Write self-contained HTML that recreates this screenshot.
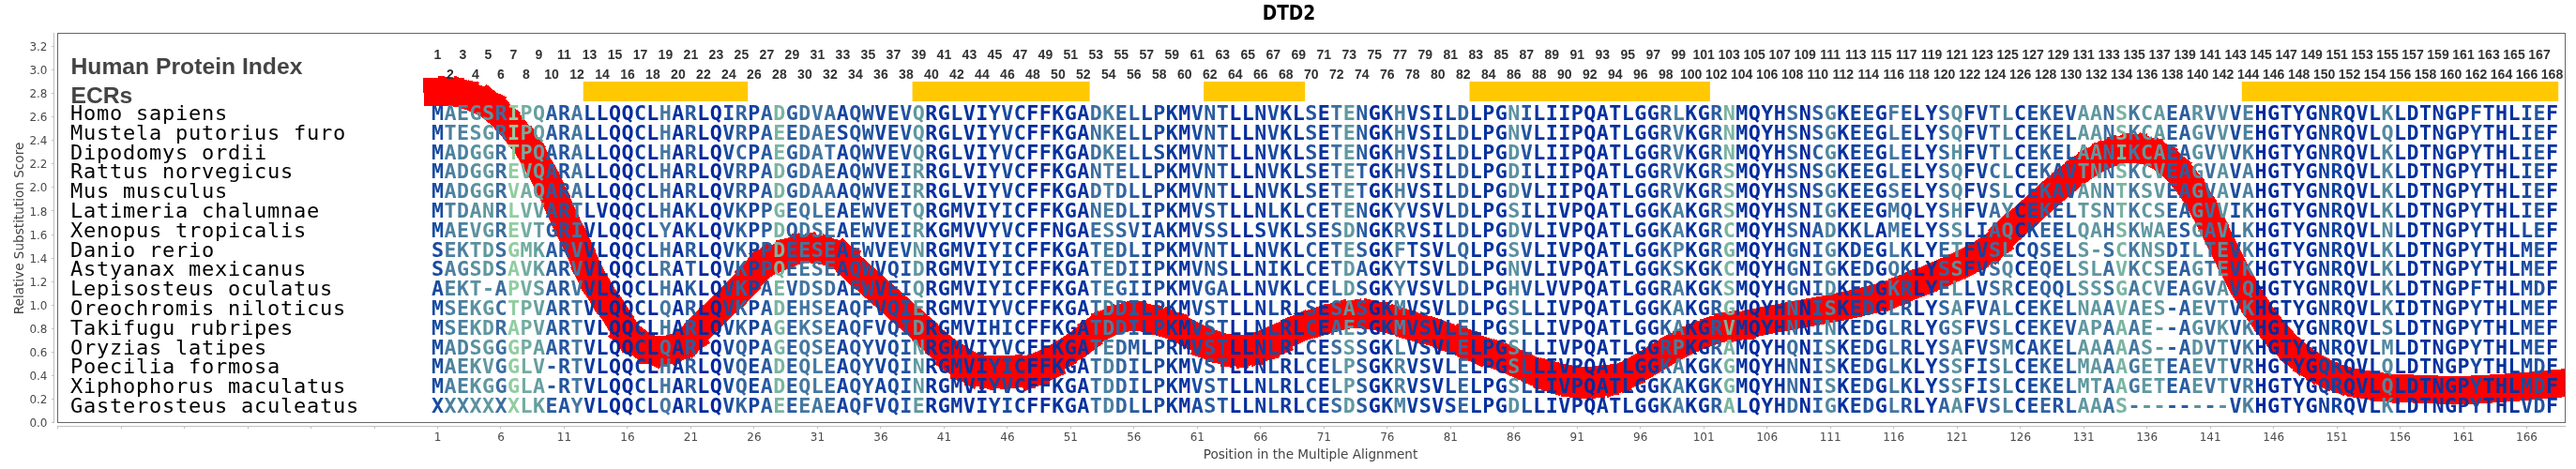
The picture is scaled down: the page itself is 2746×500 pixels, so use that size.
<!DOCTYPE html><html><head><meta charset="utf-8"><title>DTD2</title><style>html,body{margin:0;padding:0;background:#fff;}svg{display:block;will-change:transform}</style></head><body><svg width="2746" height="500" viewBox="0 0 2746 500"><rect width="2746" height="500" fill="#fff"/><text x="1374" y="21" text-anchor="middle" font-family="DejaVu Sans Condensed, DejaVu Sans, sans-serif" font-stretch="condensed" font-weight="bold" font-size="20.7" fill="#000">DTD2</text><g shape-rendering="crispEdges"><line x1="57.5" y1="35" x2="57.5" y2="451" stroke="#c0c0c0" stroke-width="1"/><g stroke="#c0c0c0" stroke-width="1"><line x1="55" y1="450.5" x2="57" y2="450.5"/><line x1="55" y1="425.5" x2="57" y2="425.5"/><line x1="55" y1="400.5" x2="57" y2="400.5"/><line x1="55" y1="375.5" x2="57" y2="375.5"/><line x1="55" y1="350.5" x2="57" y2="350.5"/><line x1="55" y1="325.5" x2="57" y2="325.5"/><line x1="55" y1="300.5" x2="57" y2="300.5"/><line x1="55" y1="275.5" x2="57" y2="275.5"/><line x1="55" y1="250.5" x2="57" y2="250.5"/><line x1="55" y1="224.5" x2="57" y2="224.5"/><line x1="55" y1="199.5" x2="57" y2="199.5"/><line x1="55" y1="174.5" x2="57" y2="174.5"/><line x1="55" y1="149.5" x2="57" y2="149.5"/><line x1="55" y1="124.5" x2="57" y2="124.5"/><line x1="55" y1="99.5" x2="57" y2="99.5"/><line x1="55" y1="74.5" x2="57" y2="74.5"/><line x1="55" y1="49.5" x2="57" y2="49.5"/></g><line x1="61" y1="454.5" x2="2735" y2="454.5" stroke="#c0c0c0" stroke-width="1"/><g stroke="#c0c0c0" stroke-width="1"><line x1="61.5" y1="455" x2="61.5" y2="457"/><line x1="129.5" y1="455" x2="129.5" y2="457"/><line x1="196.5" y1="455" x2="196.5" y2="457"/><line x1="264.5" y1="455" x2="264.5" y2="457"/><line x1="331.5" y1="455" x2="331.5" y2="457"/><line x1="399.5" y1="455" x2="399.5" y2="457"/><line x1="466.5" y1="455" x2="466.5" y2="457"/><line x1="533.5" y1="455" x2="533.5" y2="457"/><line x1="601.5" y1="455" x2="601.5" y2="457"/><line x1="668.5" y1="455" x2="668.5" y2="457"/><line x1="736.5" y1="455" x2="736.5" y2="457"/><line x1="803.5" y1="455" x2="803.5" y2="457"/><line x1="871.5" y1="455" x2="871.5" y2="457"/><line x1="938.5" y1="455" x2="938.5" y2="457"/><line x1="1006.5" y1="455" x2="1006.5" y2="457"/><line x1="1073.5" y1="455" x2="1073.5" y2="457"/><line x1="1141.5" y1="455" x2="1141.5" y2="457"/><line x1="1208.5" y1="455" x2="1208.5" y2="457"/><line x1="1276.5" y1="455" x2="1276.5" y2="457"/><line x1="1343.5" y1="455" x2="1343.5" y2="457"/><line x1="1411.5" y1="455" x2="1411.5" y2="457"/><line x1="1478.5" y1="455" x2="1478.5" y2="457"/><line x1="1546.5" y1="455" x2="1546.5" y2="457"/><line x1="1613.5" y1="455" x2="1613.5" y2="457"/><line x1="1681.5" y1="455" x2="1681.5" y2="457"/><line x1="1748.5" y1="455" x2="1748.5" y2="457"/><line x1="1816.5" y1="455" x2="1816.5" y2="457"/><line x1="1883.5" y1="455" x2="1883.5" y2="457"/><line x1="1951.5" y1="455" x2="1951.5" y2="457"/><line x1="2018.5" y1="455" x2="2018.5" y2="457"/><line x1="2086.5" y1="455" x2="2086.5" y2="457"/><line x1="2153.5" y1="455" x2="2153.5" y2="457"/><line x1="2221.5" y1="455" x2="2221.5" y2="457"/><line x1="2288.5" y1="455" x2="2288.5" y2="457"/><line x1="2356.5" y1="455" x2="2356.5" y2="457"/><line x1="2423.5" y1="455" x2="2423.5" y2="457"/><line x1="2491.5" y1="455" x2="2491.5" y2="457"/><line x1="2558.5" y1="455" x2="2558.5" y2="457"/><line x1="2626.5" y1="455" x2="2626.5" y2="457"/><line x1="2693.5" y1="455" x2="2693.5" y2="457"/></g></g><g font-family="DejaVu Sans, sans-serif" font-size="12" fill="#4a4a4a" text-anchor="end"><text x="50.5" y="455.0">0.0</text><text x="50.5" y="429.9">0.2</text><text x="50.5" y="404.9">0.4</text><text x="50.5" y="379.8">0.6</text><text x="50.5" y="354.8">0.8</text><text x="50.5" y="329.7">1.0</text><text x="50.5" y="304.6">1.2</text><text x="50.5" y="279.6">1.4</text><text x="50.5" y="254.5">1.6</text><text x="50.5" y="229.5">1.8</text><text x="50.5" y="204.4">2.0</text><text x="50.5" y="179.3">2.2</text><text x="50.5" y="154.3">2.4</text><text x="50.5" y="129.2">2.6</text><text x="50.5" y="104.2">2.8</text><text x="50.5" y="79.1">3.0</text><text x="50.5" y="54.0">3.2</text></g><g font-family="DejaVu Sans, sans-serif" font-size="12" fill="#4a4a4a" text-anchor="middle"><text x="466.5" y="470">1</text><text x="534.0" y="470">6</text><text x="601.5" y="470">11</text><text x="669.0" y="470">16</text><text x="736.4" y="470">21</text><text x="803.9" y="470">26</text><text x="871.4" y="470">31</text><text x="938.9" y="470">36</text><text x="1006.4" y="470">41</text><text x="1073.9" y="470">46</text><text x="1141.3" y="470">51</text><text x="1208.8" y="470">56</text><text x="1276.3" y="470">61</text><text x="1343.8" y="470">66</text><text x="1411.3" y="470">71</text><text x="1478.8" y="470">76</text><text x="1546.3" y="470">81</text><text x="1613.7" y="470">86</text><text x="1681.2" y="470">91</text><text x="1748.7" y="470">96</text><text x="1816.2" y="470">101</text><text x="1883.7" y="470">106</text><text x="1951.2" y="470">111</text><text x="2018.7" y="470">116</text><text x="2086.1" y="470">121</text><text x="2153.6" y="470">126</text><text x="2221.1" y="470">131</text><text x="2288.6" y="470">136</text><text x="2356.1" y="470">141</text><text x="2423.6" y="470">146</text><text x="2491.1" y="470">151</text><text x="2558.5" y="470">156</text><text x="2626.0" y="470">161</text><text x="2693.5" y="470">166</text></g><text x="1397" y="489" text-anchor="middle" font-family="DejaVu Sans, sans-serif" font-size="13.6" fill="#444">Position in the Multiple Alignment</text><text transform="translate(25,243.5) rotate(-90)" text-anchor="middle" font-family="DejaVu Sans, sans-serif" font-size="13.6" fill="#444">Relative Substitution Score</text><defs><clipPath id="pc"><rect x="61" y="35" width="2674" height="416"/></clipPath></defs><g clip-path="url(#pc)"><rect x="621.7" y="87" width="175.5" height="21" fill="#ffc800"/><rect x="972.6" y="87" width="189.0" height="21" fill="#ffc800"/><rect x="1283.1" y="87" width="108.0" height="21" fill="#ffc800"/><rect x="1566.5" y="87" width="256.4" height="21" fill="#ffc800"/><rect x="2389.8" y="87" width="337.4" height="21" fill="#ffc800"/><g stroke="#ff0000" stroke-width="30" stroke-linecap="square" shape-rendering="crispEdges"><line x1="466.50" y1="98.02" x2="480.00" y2="97.78"/><line x1="480.00" y1="97.78" x2="493.49" y2="100.01"/><line x1="493.49" y1="100.01" x2="506.99" y2="104.99"/><line x1="506.99" y1="104.99" x2="520.49" y2="111.02"/><line x1="520.49" y1="111.02" x2="533.99" y2="122.36"/><line x1="533.99" y1="122.36" x2="547.48" y2="137.32"/><line x1="547.48" y1="137.32" x2="560.98" y2="154.16"/><line x1="560.98" y1="154.16" x2="574.48" y2="177.07"/><line x1="574.48" y1="177.07" x2="587.97" y2="203.11"/><line x1="587.97" y1="203.11" x2="601.47" y2="232.78"/><line x1="601.47" y1="232.78" x2="614.97" y2="260.56"/><line x1="614.97" y1="260.56" x2="628.46" y2="290.93"/><line x1="628.46" y1="290.93" x2="641.96" y2="314.42"/><line x1="641.96" y1="314.42" x2="655.46" y2="334.29"/><line x1="655.46" y1="334.29" x2="668.95" y2="356.00"/><line x1="668.95" y1="356.00" x2="682.45" y2="366.50"/><line x1="682.45" y1="366.50" x2="695.95" y2="373.30"/><line x1="695.95" y1="373.30" x2="709.45" y2="373.30"/><line x1="709.45" y1="373.30" x2="722.94" y2="369.50"/><line x1="722.94" y1="369.50" x2="736.44" y2="361.00"/><line x1="736.44" y1="361.00" x2="749.94" y2="346.00"/><line x1="749.94" y1="346.00" x2="763.43" y2="333.00"/><line x1="763.43" y1="333.00" x2="776.93" y2="319.80"/><line x1="776.93" y1="319.80" x2="790.43" y2="306.50"/><line x1="790.43" y1="306.50" x2="803.92" y2="291.00"/><line x1="803.92" y1="291.00" x2="817.42" y2="279.00"/><line x1="817.42" y1="279.00" x2="830.92" y2="274.00"/><line x1="830.92" y1="274.00" x2="844.42" y2="268.00"/><line x1="844.42" y1="268.00" x2="857.91" y2="265.00"/><line x1="857.91" y1="265.00" x2="871.41" y2="266.00"/><line x1="871.41" y1="266.00" x2="884.91" y2="269.00"/><line x1="884.91" y1="269.00" x2="898.40" y2="275.00"/><line x1="898.40" y1="275.00" x2="911.90" y2="288.00"/><line x1="911.90" y1="288.00" x2="925.40" y2="300.00"/><line x1="925.40" y1="300.00" x2="938.89" y2="312.00"/><line x1="938.89" y1="312.00" x2="952.39" y2="324.00"/><line x1="952.39" y1="324.00" x2="965.89" y2="336.00"/><line x1="965.89" y1="336.00" x2="979.39" y2="347.70"/><line x1="979.39" y1="347.70" x2="992.88" y2="360.58"/><line x1="992.88" y1="360.58" x2="1006.38" y2="371.92"/><line x1="1006.38" y1="371.92" x2="1019.88" y2="381.12"/><line x1="1019.88" y1="383.12" x2="1033.37" y2="391.62" stroke-width="34.0"/><line x1="1033.37" y1="391.62" x2="1046.87" y2="395.43" stroke-width="34.0"/><line x1="1046.87" y1="395.43" x2="1060.37" y2="396.81" stroke-width="34.0"/><line x1="1060.37" y1="396.81" x2="1073.87" y2="396.02" stroke-width="34.0"/><line x1="1073.87" y1="396.02" x2="1087.36" y2="396.33" stroke-width="34.0"/><line x1="1087.36" y1="396.33" x2="1100.86" y2="394.99" stroke-width="34.0"/><line x1="1100.86" y1="394.99" x2="1114.36" y2="389.28" stroke-width="34.0"/><line x1="1114.36" y1="387.28" x2="1127.85" y2="380.46"/><line x1="1127.85" y1="380.46" x2="1141.35" y2="371.78"/><line x1="1141.35" y1="371.78" x2="1154.85" y2="362.62"/><line x1="1154.85" y1="362.62" x2="1168.34" y2="351.74"/><line x1="1168.34" y1="351.74" x2="1181.84" y2="344.03"/><line x1="1181.84" y1="344.03" x2="1195.34" y2="339.36"/><line x1="1195.34" y1="339.36" x2="1208.84" y2="337.59"/><line x1="1208.84" y1="337.59" x2="1222.33" y2="339.06"/><line x1="1222.33" y1="339.06" x2="1235.83" y2="343.04"/><line x1="1235.83" y1="343.04" x2="1249.33" y2="346.72"/><line x1="1249.33" y1="346.72" x2="1262.82" y2="353.27"/><line x1="1262.82" y1="353.27" x2="1276.32" y2="359.87"/><line x1="1276.32" y1="359.87" x2="1289.82" y2="365.74"/><line x1="1289.82" y1="367.24" x2="1303.31" y2="371.63" stroke-width="33.0"/><line x1="1303.31" y1="371.63" x2="1316.81" y2="373.80" stroke-width="33.0"/><line x1="1316.81" y1="373.80" x2="1330.31" y2="373.04" stroke-width="33.0"/><line x1="1330.31" y1="373.04" x2="1343.80" y2="369.44" stroke-width="33.0"/><line x1="1343.80" y1="369.44" x2="1357.30" y2="364.00" stroke-width="33.0"/><line x1="1357.30" y1="362.50" x2="1370.80" y2="356.24"/><line x1="1370.80" y1="356.24" x2="1384.30" y2="350.17"/><line x1="1384.30" y1="350.17" x2="1397.79" y2="345.27"/><line x1="1397.79" y1="345.27" x2="1411.29" y2="341.78"/><line x1="1411.29" y1="341.78" x2="1424.79" y2="337.57"/><line x1="1424.79" y1="337.57" x2="1438.28" y2="335.51"/><line x1="1438.28" y1="335.51" x2="1451.78" y2="335.46"/><line x1="1451.78" y1="335.46" x2="1465.28" y2="336.30"/><line x1="1465.28" y1="336.30" x2="1478.78" y2="339.90"/><line x1="1478.78" y1="339.90" x2="1492.27" y2="343.11"/><line x1="1492.27" y1="343.11" x2="1505.77" y2="347.93"/><line x1="1505.77" y1="347.93" x2="1519.27" y2="351.42"/><line x1="1519.27" y1="351.42" x2="1532.76" y2="355.67"/><line x1="1532.76" y1="355.67" x2="1546.26" y2="360.77"/><line x1="1546.26" y1="360.77" x2="1559.76" y2="364.75"/><line x1="1559.76" y1="364.75" x2="1573.25" y2="371.43"/><line x1="1573.25" y1="371.43" x2="1586.75" y2="376.00"/><line x1="1586.75" y1="376.00" x2="1600.25" y2="380.50"/><line x1="1600.25" y1="380.50" x2="1613.74" y2="386.00"/><line x1="1613.74" y1="386.00" x2="1627.24" y2="392.00"/><line x1="1627.24" y1="392.00" x2="1640.74" y2="398.00"/><line x1="1640.74" y1="398.00" x2="1654.24" y2="403.00"/><line x1="1654.24" y1="401.50" x2="1667.73" y2="405.00" stroke-width="33.0"/><line x1="1667.73" y1="405.00" x2="1681.23" y2="407.00" stroke-width="33.0"/><line x1="1681.23" y1="407.00" x2="1694.73" y2="407.50" stroke-width="33.0"/><line x1="1694.73" y1="407.50" x2="1708.22" y2="406.00" stroke-width="33.0"/><line x1="1708.22" y1="407.50" x2="1721.72" y2="404.50"/><line x1="1721.72" y1="404.50" x2="1735.22" y2="399.00"/><line x1="1735.22" y1="399.00" x2="1748.71" y2="391.50"/><line x1="1748.71" y1="391.50" x2="1762.21" y2="383.50"/><line x1="1762.21" y1="383.50" x2="1775.71" y2="375.50"/><line x1="1775.71" y1="375.50" x2="1789.21" y2="368.00"/><line x1="1789.21" y1="368.00" x2="1802.70" y2="361.50"/><line x1="1802.70" y1="361.50" x2="1816.20" y2="356.00"/><line x1="1816.20" y1="356.00" x2="1829.70" y2="351.50"/><line x1="1829.70" y1="351.50" x2="1843.19" y2="348.00"/><line x1="1843.19" y1="348.00" x2="1856.69" y2="347.22"/><line x1="1856.69" y1="347.22" x2="1870.19" y2="344.22"/><line x1="1870.19" y1="344.22" x2="1883.68" y2="341.46"/><line x1="1883.68" y1="341.46" x2="1897.18" y2="338.87"/><line x1="1897.18" y1="338.87" x2="1910.68" y2="336.40"/><line x1="1910.68" y1="336.40" x2="1924.18" y2="333.97"/><line x1="1924.18" y1="333.97" x2="1937.67" y2="331.51"/><line x1="1937.67" y1="331.51" x2="1951.17" y2="328.96"/><line x1="1951.17" y1="328.96" x2="1964.67" y2="326.26"/><line x1="1964.67" y1="326.26" x2="1978.16" y2="323.34"/><line x1="1978.16" y1="323.34" x2="1991.66" y2="320.13"/><line x1="1991.66" y1="320.13" x2="2005.16" y2="316.56"/><line x1="2005.16" y1="316.56" x2="2018.65" y2="312.58"/><line x1="2018.65" y1="312.58" x2="2032.15" y2="306.50"/><line x1="2032.15" y1="306.50" x2="2045.65" y2="301.50"/><line x1="2045.65" y1="301.50" x2="2059.15" y2="296.00"/><line x1="2059.15" y1="296.00" x2="2072.64" y2="290.00"/><line x1="2072.64" y1="290.00" x2="2086.14" y2="284.00"/><line x1="2086.14" y1="284.00" x2="2099.64" y2="277.50"/><line x1="2099.64" y1="277.50" x2="2113.13" y2="270.00"/><line x1="2113.13" y1="270.00" x2="2126.63" y2="261.00"/><line x1="2126.63" y1="261.00" x2="2140.13" y2="246.97"/><line x1="2140.13" y1="246.97" x2="2153.62" y2="235.36"/><line x1="2153.62" y1="235.36" x2="2167.12" y2="223.25"/><line x1="2167.12" y1="223.25" x2="2180.62" y2="211.07"/><line x1="2180.62" y1="211.07" x2="2194.12" y2="199.22"/><line x1="2194.12" y1="199.22" x2="2207.61" y2="188.13"/><line x1="2207.61" y1="188.13" x2="2221.11" y2="178.21"/><line x1="2221.11" y1="178.21" x2="2234.61" y2="169.88"/><line x1="2234.61" y1="169.88" x2="2248.10" y2="163.55"/><line x1="2248.10" y1="163.55" x2="2261.60" y2="159.64"/><line x1="2261.60" y1="159.64" x2="2275.10" y2="158.57"/><line x1="2275.10" y1="158.57" x2="2288.60" y2="160.75"/><line x1="2288.60" y1="160.75" x2="2302.09" y2="166.61"/><line x1="2302.09" y1="166.61" x2="2315.59" y2="176.60"/><line x1="2315.59" y1="176.60" x2="2329.09" y2="191.16"/><line x1="2329.09" y1="191.16" x2="2342.58" y2="210.74"/><line x1="2342.58" y1="210.74" x2="2356.08" y2="235.17"/><line x1="2356.08" y1="235.17" x2="2369.58" y2="262.25"/><line x1="2369.58" y1="262.25" x2="2383.07" y2="289.33"/><line x1="2383.07" y1="289.33" x2="2396.57" y2="313.90"/><line x1="2396.57" y1="313.90" x2="2410.07" y2="334.95"/><line x1="2410.07" y1="334.95" x2="2423.57" y2="352.73"/><line x1="2423.57" y1="352.73" x2="2437.06" y2="367.53"/><line x1="2437.06" y1="367.53" x2="2450.56" y2="379.63"/><line x1="2450.56" y1="379.63" x2="2464.06" y2="389.31"/><line x1="2464.06" y1="389.31" x2="2477.55" y2="396.86"/><line x1="2477.55" y1="396.86" x2="2491.05" y2="402.55"/><line x1="2491.05" y1="402.55" x2="2504.55" y2="406.68"/><line x1="2504.55" y1="406.68" x2="2518.04" y2="409.51"/><line x1="2518.04" y1="409.51" x2="2531.54" y2="411.35"/><line x1="2531.54" y1="411.35" x2="2545.04" y2="413.50"/><line x1="2545.04" y1="413.50" x2="2558.53" y2="414.00"/><line x1="2558.53" y1="414.00" x2="2572.03" y2="414.50"/><line x1="2572.03" y1="414.50" x2="2585.53" y2="415.00"/><line x1="2585.53" y1="415.00" x2="2599.03" y2="415.50"/><line x1="2599.03" y1="415.50" x2="2612.52" y2="415.80"/><line x1="2612.52" y1="415.80" x2="2626.02" y2="415.80"/><line x1="2626.02" y1="415.80" x2="2639.52" y2="415.30"/><line x1="2639.52" y1="415.30" x2="2653.01" y2="414.60"/><line x1="2653.01" y1="414.60" x2="2666.51" y2="413.80"/><line x1="2666.51" y1="413.80" x2="2680.01" y2="412.80"/><line x1="2680.01" y1="412.80" x2="2693.51" y2="411.80"/><line x1="2693.51" y1="411.80" x2="2707.00" y2="410.60"/><line x1="2707.00" y1="410.60" x2="2720.50" y2="409.40"/><line x1="2720.50" y1="409.40" x2="2734.00" y2="408.20"/><line x1="2734.00" y1="408.20" x2="2747.49" y2="407.00"/></g><text x="75.5" y="79" font-family="Liberation Sans, Arial, sans-serif" font-weight="bold" font-size="24.7" fill="#444">Human Protein Index</text><text x="75.5" y="110" font-family="Liberation Sans, Arial, sans-serif" font-weight="bold" font-size="24.7" fill="#444">ECRs</text><g font-family="Liberation Sans, Arial, sans-serif" font-weight="bold" font-size="14" fill="#333" text-anchor="middle"><text x="466.5" y="63.0">1</text><text x="480.0" y="83.5">2</text><text x="493.5" y="63.0">3</text><text x="507.0" y="83.5">4</text><text x="520.5" y="63.0">5</text><text x="534.0" y="83.5">6</text><text x="547.5" y="63.0">7</text><text x="561.0" y="83.5">8</text><text x="574.5" y="63.0">9</text><text x="588.0" y="83.5">10</text><text x="601.5" y="63.0">11</text><text x="615.0" y="83.5">12</text><text x="628.5" y="63.0">13</text><text x="642.0" y="83.5">14</text><text x="655.5" y="63.0">15</text><text x="669.0" y="83.5">16</text><text x="682.5" y="63.0">17</text><text x="695.9" y="83.5">18</text><text x="709.4" y="63.0">19</text><text x="722.9" y="83.5">20</text><text x="736.4" y="63.0">21</text><text x="749.9" y="83.5">22</text><text x="763.4" y="63.0">23</text><text x="776.9" y="83.5">24</text><text x="790.4" y="63.0">25</text><text x="803.9" y="83.5">26</text><text x="817.4" y="63.0">27</text><text x="830.9" y="83.5">28</text><text x="844.4" y="63.0">29</text><text x="857.9" y="83.5">30</text><text x="871.4" y="63.0">31</text><text x="884.9" y="83.5">32</text><text x="898.4" y="63.0">33</text><text x="911.9" y="83.5">34</text><text x="925.4" y="63.0">35</text><text x="938.9" y="83.5">36</text><text x="952.4" y="63.0">37</text><text x="965.9" y="83.5">38</text><text x="979.4" y="63.0">39</text><text x="992.9" y="83.5">40</text><text x="1006.4" y="63.0">41</text><text x="1019.9" y="83.5">42</text><text x="1033.4" y="63.0">43</text><text x="1046.9" y="83.5">44</text><text x="1060.4" y="63.0">45</text><text x="1073.9" y="83.5">46</text><text x="1087.4" y="63.0">47</text><text x="1100.9" y="83.5">48</text><text x="1114.4" y="63.0">49</text><text x="1127.9" y="83.5">50</text><text x="1141.3" y="63.0">51</text><text x="1154.8" y="83.5">52</text><text x="1168.3" y="63.0">53</text><text x="1181.8" y="83.5">54</text><text x="1195.3" y="63.0">55</text><text x="1208.8" y="83.5">56</text><text x="1222.3" y="63.0">57</text><text x="1235.8" y="83.5">58</text><text x="1249.3" y="63.0">59</text><text x="1262.8" y="83.5">60</text><text x="1276.3" y="63.0">61</text><text x="1289.8" y="83.5">62</text><text x="1303.3" y="63.0">63</text><text x="1316.8" y="83.5">64</text><text x="1330.3" y="63.0">65</text><text x="1343.8" y="83.5">66</text><text x="1357.3" y="63.0">67</text><text x="1370.8" y="83.5">68</text><text x="1384.3" y="63.0">69</text><text x="1397.8" y="83.5">70</text><text x="1411.3" y="63.0">71</text><text x="1424.8" y="83.5">72</text><text x="1438.3" y="63.0">73</text><text x="1451.8" y="83.5">74</text><text x="1465.3" y="63.0">75</text><text x="1478.8" y="83.5">76</text><text x="1492.3" y="63.0">77</text><text x="1505.8" y="83.5">78</text><text x="1519.3" y="63.0">79</text><text x="1532.8" y="83.5">80</text><text x="1546.3" y="63.0">81</text><text x="1559.8" y="83.5">82</text><text x="1573.3" y="63.0">83</text><text x="1586.8" y="83.5">84</text><text x="1600.2" y="63.0">85</text><text x="1613.7" y="83.5">86</text><text x="1627.2" y="63.0">87</text><text x="1640.7" y="83.5">88</text><text x="1654.2" y="63.0">89</text><text x="1667.7" y="83.5">90</text><text x="1681.2" y="63.0">91</text><text x="1694.7" y="83.5">92</text><text x="1708.2" y="63.0">93</text><text x="1721.7" y="83.5">94</text><text x="1735.2" y="63.0">95</text><text x="1748.7" y="83.5">96</text><text x="1762.2" y="63.0">97</text><text x="1775.7" y="83.5">98</text><text x="1789.2" y="63.0">99</text><text x="1802.7" y="83.5">100</text><text x="1816.2" y="63.0">101</text><text x="1829.7" y="83.5">102</text><text x="1843.2" y="63.0">103</text><text x="1856.7" y="83.5">104</text><text x="1870.2" y="63.0">105</text><text x="1883.7" y="83.5">106</text><text x="1897.2" y="63.0">107</text><text x="1910.7" y="83.5">108</text><text x="1924.2" y="63.0">109</text><text x="1937.7" y="83.5">110</text><text x="1951.2" y="63.0">111</text><text x="1964.7" y="83.5">112</text><text x="1978.2" y="63.0">113</text><text x="1991.7" y="83.5">114</text><text x="2005.2" y="63.0">115</text><text x="2018.7" y="83.5">116</text><text x="2032.2" y="63.0">117</text><text x="2045.6" y="83.5">118</text><text x="2059.1" y="63.0">119</text><text x="2072.6" y="83.5">120</text><text x="2086.1" y="63.0">121</text><text x="2099.6" y="83.5">122</text><text x="2113.1" y="63.0">123</text><text x="2126.6" y="83.5">124</text><text x="2140.1" y="63.0">125</text><text x="2153.6" y="83.5">126</text><text x="2167.1" y="63.0">127</text><text x="2180.6" y="83.5">128</text><text x="2194.1" y="63.0">129</text><text x="2207.6" y="83.5">130</text><text x="2221.1" y="63.0">131</text><text x="2234.6" y="83.5">132</text><text x="2248.1" y="63.0">133</text><text x="2261.6" y="83.5">134</text><text x="2275.1" y="63.0">135</text><text x="2288.6" y="83.5">136</text><text x="2302.1" y="63.0">137</text><text x="2315.6" y="83.5">138</text><text x="2329.1" y="63.0">139</text><text x="2342.6" y="83.5">140</text><text x="2356.1" y="63.0">141</text><text x="2369.6" y="83.5">142</text><text x="2383.1" y="63.0">143</text><text x="2396.6" y="83.5">144</text><text x="2410.1" y="63.0">145</text><text x="2423.6" y="83.5">146</text><text x="2437.1" y="63.0">147</text><text x="2450.6" y="83.5">148</text><text x="2464.1" y="63.0">149</text><text x="2477.6" y="83.5">150</text><text x="2491.1" y="63.0">151</text><text x="2504.5" y="83.5">152</text><text x="2518.0" y="63.0">153</text><text x="2531.5" y="83.5">154</text><text x="2545.0" y="63.0">155</text><text x="2558.5" y="83.5">156</text><text x="2572.0" y="63.0">157</text><text x="2585.5" y="83.5">158</text><text x="2599.0" y="63.0">159</text><text x="2612.5" y="83.5">160</text><text x="2626.0" y="63.0">161</text><text x="2639.5" y="83.5">162</text><text x="2653.0" y="63.0">163</text><text x="2666.5" y="83.5">164</text><text x="2680.0" y="63.0">165</text><text x="2693.5" y="83.5">166</text><text x="2707.0" y="63.0">167</text><text x="2720.5" y="83.5">168</text></g><g font-family="DejaVu Sans Mono, monospace" font-size="22" letter-spacing="0.75" fill="#000" style="white-space:pre"><text x="75" y="128.0">Homo sapiens</text><text x="75" y="148.8">Mustela putorius furo</text><text x="75" y="169.6">Dipodomys ordii</text><text x="75" y="190.4">Rattus norvegicus</text><text x="75" y="211.2">Mus musculus</text><text x="75" y="232.0">Latimeria chalumnae</text><text x="75" y="252.8">Xenopus tropicalis</text><text x="75" y="273.6">Danio rerio</text><text x="75" y="294.4">Astyanax mexicanus</text><text x="75" y="315.2">Lepisosteus oculatus</text><text x="75" y="336.0">Oreochromis niloticus</text><text x="75" y="356.8">Takifugu rubripes</text><text x="75" y="377.6">Oryzias latipes</text><text x="75" y="398.4">Poecilia formosa</text><text x="75" y="419.2">Xiphophorus maculatus</text><text x="75" y="440.0">Gasterosteus aculeatus</text></g><g font-family="DejaVu Sans Mono, monospace" font-weight="bold" font-size="21.7" text-anchor="middle"><text fill="#194ba0"><tspan x="466.5" y="128.0">M</tspan><tspan x="466.5" y="148.8">M</tspan><tspan x="466.5" y="169.6">M</tspan><tspan x="466.5" y="190.4">M</tspan><tspan x="466.5" y="211.2">M</tspan><tspan x="466.5" y="232.0">M</tspan><tspan x="466.5" y="252.8">M</tspan><tspan x="466.5" y="273.6">S</tspan><tspan x="466.5" y="294.4">S</tspan><tspan x="466.5" y="315.2">A</tspan><tspan x="466.5" y="336.0">M</tspan><tspan x="466.5" y="356.8">M</tspan><tspan x="466.5" y="377.6">M</tspan><tspan x="466.5" y="398.4">M</tspan><tspan x="466.5" y="419.2">M</tspan><tspan x="466.5" y="440.0">X</tspan></text><text fill="#4b80a0"><tspan x="480.0" y="128.0">A</tspan><tspan x="480.0" y="148.8">T</tspan><tspan x="480.0" y="169.6">A</tspan><tspan x="480.0" y="190.4">A</tspan><tspan x="480.0" y="211.2">A</tspan><tspan x="480.0" y="232.0">T</tspan><tspan x="480.0" y="252.8">A</tspan><tspan x="480.0" y="273.6">E</tspan><tspan x="480.0" y="294.4">A</tspan><tspan x="480.0" y="315.2">E</tspan><tspan x="480.0" y="336.0">S</tspan><tspan x="480.0" y="356.8">S</tspan><tspan x="480.0" y="377.6">A</tspan><tspan x="480.0" y="398.4">A</tspan><tspan x="480.0" y="419.2">A</tspan><tspan x="480.0" y="440.0">X</tspan></text><text fill="#4b80a0"><tspan x="493.5" y="128.0">E</tspan><tspan x="493.5" y="148.8">E</tspan><tspan x="493.5" y="169.6">D</tspan><tspan x="493.5" y="190.4">D</tspan><tspan x="493.5" y="211.2">D</tspan><tspan x="493.5" y="232.0">D</tspan><tspan x="493.5" y="252.8">E</tspan><tspan x="493.5" y="273.6">K</tspan><tspan x="493.5" y="294.4">G</tspan><tspan x="493.5" y="315.2">K</tspan><tspan x="493.5" y="336.0">E</tspan><tspan x="493.5" y="356.8">E</tspan><tspan x="493.5" y="377.6">D</tspan><tspan x="493.5" y="398.4">E</tspan><tspan x="493.5" y="419.2">E</tspan><tspan x="493.5" y="440.0">X</tspan></text><text fill="#5a91a0"><tspan x="507.0" y="128.0">G</tspan><tspan x="507.0" y="148.8">S</tspan><tspan x="507.0" y="169.6">G</tspan><tspan x="507.0" y="190.4">G</tspan><tspan x="507.0" y="211.2">G</tspan><tspan x="507.0" y="232.0">A</tspan><tspan x="507.0" y="252.8">V</tspan><tspan x="507.0" y="273.6">T</tspan><tspan x="507.0" y="294.4">S</tspan><tspan x="507.0" y="315.2">T</tspan><tspan x="507.0" y="336.0">K</tspan><tspan x="507.0" y="356.8">K</tspan><tspan x="507.0" y="377.6">S</tspan><tspan x="507.0" y="398.4">K</tspan><tspan x="507.0" y="419.2">K</tspan><tspan x="507.0" y="440.0">X</tspan></text><text fill="#6098a0"><tspan x="520.5" y="128.0">S</tspan><tspan x="520.5" y="148.8">G</tspan><tspan x="520.5" y="169.6">G</tspan><tspan x="520.5" y="190.4">G</tspan><tspan x="520.5" y="211.2">G</tspan><tspan x="520.5" y="232.0">N</tspan><tspan x="520.5" y="252.8">G</tspan><tspan x="520.5" y="273.6">D</tspan><tspan x="520.5" y="294.4">D</tspan><tspan x="520.5" y="315.2">-</tspan><tspan x="520.5" y="336.0">G</tspan><tspan x="520.5" y="356.8">D</tspan><tspan x="520.5" y="377.6">G</tspan><tspan x="520.5" y="398.4">V</tspan><tspan x="520.5" y="419.2">G</tspan><tspan x="520.5" y="440.0">X</tspan></text><text fill="#3c6ea0"><tspan x="534.0" y="128.0">R</tspan><tspan x="534.0" y="148.8">R</tspan><tspan x="534.0" y="169.6">R</tspan><tspan x="534.0" y="190.4">R</tspan><tspan x="534.0" y="211.2">R</tspan><tspan x="534.0" y="232.0">R</tspan><tspan x="534.0" y="252.8">R</tspan><tspan x="534.0" y="273.6">S</tspan><tspan x="534.0" y="294.4">S</tspan><tspan x="534.0" y="315.2">A</tspan><tspan x="534.0" y="336.0">C</tspan><tspan x="534.0" y="356.8">R</tspan><tspan x="534.0" y="377.6">G</tspan><tspan x="534.0" y="398.4">G</tspan><tspan x="534.0" y="419.2">G</tspan><tspan x="534.0" y="440.0">X</tspan></text><text fill="#91cda0"><tspan x="547.5" y="128.0">I</tspan><tspan x="547.5" y="148.8">I</tspan><tspan x="547.5" y="169.6">T</tspan><tspan x="547.5" y="190.4">E</tspan><tspan x="547.5" y="211.2">V</tspan><tspan x="547.5" y="232.0">L</tspan><tspan x="547.5" y="252.8">E</tspan><tspan x="547.5" y="273.6">G</tspan><tspan x="547.5" y="294.4">A</tspan><tspan x="547.5" y="315.2">P</tspan><tspan x="547.5" y="336.0">T</tspan><tspan x="547.5" y="356.8">A</tspan><tspan x="547.5" y="377.6">G</tspan><tspan x="547.5" y="398.4">G</tspan><tspan x="547.5" y="419.2">G</tspan><tspan x="547.5" y="440.0">X</tspan></text><text fill="#73aca0"><tspan x="561.0" y="128.0">P</tspan><tspan x="561.0" y="148.8">P</tspan><tspan x="561.0" y="169.6">P</tspan><tspan x="561.0" y="190.4">V</tspan><tspan x="561.0" y="211.2">A</tspan><tspan x="561.0" y="232.0">V</tspan><tspan x="561.0" y="252.8">V</tspan><tspan x="561.0" y="273.6">M</tspan><tspan x="561.0" y="294.4">V</tspan><tspan x="561.0" y="315.2">V</tspan><tspan x="561.0" y="336.0">P</tspan><tspan x="561.0" y="356.8">P</tspan><tspan x="561.0" y="377.6">P</tspan><tspan x="561.0" y="398.4">L</tspan><tspan x="561.0" y="419.2">L</tspan><tspan x="561.0" y="440.0">L</tspan></text><text fill="#669ea0"><tspan x="574.5" y="128.0">Q</tspan><tspan x="574.5" y="148.8">Q</tspan><tspan x="574.5" y="169.6">Q</tspan><tspan x="574.5" y="190.4">Q</tspan><tspan x="574.5" y="211.2">Q</tspan><tspan x="574.5" y="232.0">V</tspan><tspan x="574.5" y="252.8">T</tspan><tspan x="574.5" y="273.6">K</tspan><tspan x="574.5" y="294.4">K</tspan><tspan x="574.5" y="315.2">S</tspan><tspan x="574.5" y="336.0">V</tspan><tspan x="574.5" y="356.8">V</tspan><tspan x="574.5" y="377.6">A</tspan><tspan x="574.5" y="398.4">V</tspan><tspan x="574.5" y="419.2">A</tspan><tspan x="574.5" y="440.0">K</tspan></text><text fill="#2a5ca0"><tspan x="588.0" y="128.0">A</tspan><tspan x="588.0" y="148.8">A</tspan><tspan x="588.0" y="169.6">A</tspan><tspan x="588.0" y="190.4">A</tspan><tspan x="588.0" y="211.2">A</tspan><tspan x="588.0" y="232.0">A</tspan><tspan x="588.0" y="252.8">G</tspan><tspan x="588.0" y="273.6">A</tspan><tspan x="588.0" y="294.4">A</tspan><tspan x="588.0" y="315.2">A</tspan><tspan x="588.0" y="336.0">A</tspan><tspan x="588.0" y="356.8">A</tspan><tspan x="588.0" y="377.6">A</tspan><tspan x="588.0" y="398.4">-</tspan><tspan x="588.0" y="419.2">-</tspan><tspan x="588.0" y="440.0">E</tspan></text><text fill="#2254a0"><tspan x="601.5" y="128.0">R</tspan><tspan x="601.5" y="148.8">R</tspan><tspan x="601.5" y="169.6">R</tspan><tspan x="601.5" y="190.4">R</tspan><tspan x="601.5" y="211.2">R</tspan><tspan x="601.5" y="232.0">R</tspan><tspan x="601.5" y="252.8">R</tspan><tspan x="601.5" y="273.6">R</tspan><tspan x="601.5" y="294.4">R</tspan><tspan x="601.5" y="315.2">R</tspan><tspan x="601.5" y="336.0">R</tspan><tspan x="601.5" y="356.8">R</tspan><tspan x="601.5" y="377.6">R</tspan><tspan x="601.5" y="398.4">R</tspan><tspan x="601.5" y="419.2">R</tspan><tspan x="601.5" y="440.0">A</tspan></text><text fill="#4477a0"><tspan x="615.0" y="128.0">A</tspan><tspan x="615.0" y="148.8">A</tspan><tspan x="615.0" y="169.6">A</tspan><tspan x="615.0" y="190.4">A</tspan><tspan x="615.0" y="211.2">A</tspan><tspan x="615.0" y="232.0">T</tspan><tspan x="615.0" y="252.8">I</tspan><tspan x="615.0" y="273.6">V</tspan><tspan x="615.0" y="294.4">V</tspan><tspan x="615.0" y="315.2">V</tspan><tspan x="615.0" y="336.0">T</tspan><tspan x="615.0" y="356.8">T</tspan><tspan x="615.0" y="377.6">T</tspan><tspan x="615.0" y="398.4">T</tspan><tspan x="615.0" y="419.2">T</tspan><tspan x="615.0" y="440.0">Y</tspan></text><text fill="#0c3a9f"><tspan x="628.5" y="128.0">L</tspan><tspan x="628.5" y="148.8">L</tspan><tspan x="628.5" y="169.6">L</tspan><tspan x="628.5" y="190.4">L</tspan><tspan x="628.5" y="211.2">L</tspan><tspan x="628.5" y="232.0">L</tspan><tspan x="628.5" y="252.8">V</tspan><tspan x="628.5" y="273.6">V</tspan><tspan x="628.5" y="294.4">V</tspan><tspan x="628.5" y="315.2">V</tspan><tspan x="628.5" y="336.0">V</tspan><tspan x="628.5" y="356.8">V</tspan><tspan x="628.5" y="377.6">V</tspan><tspan x="628.5" y="398.4">V</tspan><tspan x="628.5" y="419.2">V</tspan><tspan x="628.5" y="440.0">V</tspan></text><text fill="#06319e"><tspan x="642.0" y="128.0">L</tspan><tspan x="642.0" y="148.8">L</tspan><tspan x="642.0" y="169.6">L</tspan><tspan x="642.0" y="190.4">L</tspan><tspan x="642.0" y="211.2">L</tspan><tspan x="642.0" y="232.0">V</tspan><tspan x="642.0" y="252.8">L</tspan><tspan x="642.0" y="273.6">L</tspan><tspan x="642.0" y="294.4">L</tspan><tspan x="642.0" y="315.2">L</tspan><tspan x="642.0" y="336.0">L</tspan><tspan x="642.0" y="356.8">L</tspan><tspan x="642.0" y="377.6">L</tspan><tspan x="642.0" y="398.4">L</tspan><tspan x="642.0" y="419.2">L</tspan><tspan x="642.0" y="440.0">L</tspan></text><text fill="#00289e"><tspan x="655.5" y="128.0">Q</tspan><tspan x="655.5" y="148.8">Q</tspan><tspan x="655.5" y="169.6">Q</tspan><tspan x="655.5" y="190.4">Q</tspan><tspan x="655.5" y="211.2">Q</tspan><tspan x="655.5" y="232.0">Q</tspan><tspan x="655.5" y="252.8">Q</tspan><tspan x="655.5" y="273.6">Q</tspan><tspan x="655.5" y="294.4">Q</tspan><tspan x="655.5" y="315.2">Q</tspan><tspan x="655.5" y="336.0">Q</tspan><tspan x="655.5" y="356.8">Q</tspan><tspan x="655.5" y="377.6">Q</tspan><tspan x="655.5" y="398.4">Q</tspan><tspan x="655.5" y="419.2">Q</tspan><tspan x="655.5" y="440.0">Q</tspan></text><text fill="#00289e"><tspan x="669.0" y="128.0">Q</tspan><tspan x="669.0" y="148.8">Q</tspan><tspan x="669.0" y="169.6">Q</tspan><tspan x="669.0" y="190.4">Q</tspan><tspan x="669.0" y="211.2">Q</tspan><tspan x="669.0" y="232.0">Q</tspan><tspan x="669.0" y="252.8">Q</tspan><tspan x="669.0" y="273.6">Q</tspan><tspan x="669.0" y="294.4">Q</tspan><tspan x="669.0" y="315.2">Q</tspan><tspan x="669.0" y="336.0">Q</tspan><tspan x="669.0" y="356.8">Q</tspan><tspan x="669.0" y="377.6">Q</tspan><tspan x="669.0" y="398.4">Q</tspan><tspan x="669.0" y="419.2">Q</tspan><tspan x="669.0" y="440.0">Q</tspan></text><text fill="#0c3a9f"><tspan x="682.5" y="128.0">C</tspan><tspan x="682.5" y="148.8">C</tspan><tspan x="682.5" y="169.6">C</tspan><tspan x="682.5" y="190.4">C</tspan><tspan x="682.5" y="211.2">C</tspan><tspan x="682.5" y="232.0">C</tspan><tspan x="682.5" y="252.8">C</tspan><tspan x="682.5" y="273.6">C</tspan><tspan x="682.5" y="294.4">C</tspan><tspan x="682.5" y="315.2">C</tspan><tspan x="682.5" y="336.0">C</tspan><tspan x="682.5" y="356.8">C</tspan><tspan x="682.5" y="377.6">C</tspan><tspan x="682.5" y="398.4">C</tspan><tspan x="682.5" y="419.2">C</tspan><tspan x="682.5" y="440.0">C</tspan></text><text fill="#00289e"><tspan x="695.9" y="128.0">L</tspan><tspan x="695.9" y="148.8">L</tspan><tspan x="695.9" y="169.6">L</tspan><tspan x="695.9" y="190.4">L</tspan><tspan x="695.9" y="211.2">L</tspan><tspan x="695.9" y="232.0">L</tspan><tspan x="695.9" y="252.8">L</tspan><tspan x="695.9" y="273.6">L</tspan><tspan x="695.9" y="294.4">L</tspan><tspan x="695.9" y="315.2">L</tspan><tspan x="695.9" y="336.0">L</tspan><tspan x="695.9" y="356.8">L</tspan><tspan x="695.9" y="377.6">L</tspan><tspan x="695.9" y="398.4">L</tspan><tspan x="695.9" y="419.2">L</tspan><tspan x="695.9" y="440.0">L</tspan></text><text fill="#4477a0"><tspan x="709.4" y="128.0">H</tspan><tspan x="709.4" y="148.8">H</tspan><tspan x="709.4" y="169.6">H</tspan><tspan x="709.4" y="190.4">H</tspan><tspan x="709.4" y="211.2">H</tspan><tspan x="709.4" y="232.0">H</tspan><tspan x="709.4" y="252.8">Y</tspan><tspan x="709.4" y="273.6">H</tspan><tspan x="709.4" y="294.4">R</tspan><tspan x="709.4" y="315.2">H</tspan><tspan x="709.4" y="336.0">Q</tspan><tspan x="709.4" y="356.8">H</tspan><tspan x="709.4" y="377.6">Q</tspan><tspan x="709.4" y="398.4">H</tspan><tspan x="709.4" y="419.2">H</tspan><tspan x="709.4" y="440.0">Q</tspan></text><text fill="#06319e"><tspan x="722.9" y="128.0">A</tspan><tspan x="722.9" y="148.8">A</tspan><tspan x="722.9" y="169.6">A</tspan><tspan x="722.9" y="190.4">A</tspan><tspan x="722.9" y="211.2">A</tspan><tspan x="722.9" y="232.0">A</tspan><tspan x="722.9" y="252.8">A</tspan><tspan x="722.9" y="273.6">A</tspan><tspan x="722.9" y="294.4">A</tspan><tspan x="722.9" y="315.2">A</tspan><tspan x="722.9" y="336.0">A</tspan><tspan x="722.9" y="356.8">A</tspan><tspan x="722.9" y="377.6">A</tspan><tspan x="722.9" y="398.4">A</tspan><tspan x="722.9" y="419.2">A</tspan><tspan x="722.9" y="440.0">A</tspan></text><text fill="#2a5ca0"><tspan x="736.4" y="128.0">R</tspan><tspan x="736.4" y="148.8">R</tspan><tspan x="736.4" y="169.6">R</tspan><tspan x="736.4" y="190.4">R</tspan><tspan x="736.4" y="211.2">R</tspan><tspan x="736.4" y="232.0">K</tspan><tspan x="736.4" y="252.8">K</tspan><tspan x="736.4" y="273.6">R</tspan><tspan x="736.4" y="294.4">T</tspan><tspan x="736.4" y="315.2">K</tspan><tspan x="736.4" y="336.0">R</tspan><tspan x="736.4" y="356.8">R</tspan><tspan x="736.4" y="377.6">R</tspan><tspan x="736.4" y="398.4">R</tspan><tspan x="736.4" y="419.2">R</tspan><tspan x="736.4" y="440.0">R</tspan></text><text fill="#00289e"><tspan x="749.9" y="128.0">L</tspan><tspan x="749.9" y="148.8">L</tspan><tspan x="749.9" y="169.6">L</tspan><tspan x="749.9" y="190.4">L</tspan><tspan x="749.9" y="211.2">L</tspan><tspan x="749.9" y="232.0">L</tspan><tspan x="749.9" y="252.8">L</tspan><tspan x="749.9" y="273.6">L</tspan><tspan x="749.9" y="294.4">L</tspan><tspan x="749.9" y="315.2">L</tspan><tspan x="749.9" y="336.0">L</tspan><tspan x="749.9" y="356.8">L</tspan><tspan x="749.9" y="377.6">L</tspan><tspan x="749.9" y="398.4">L</tspan><tspan x="749.9" y="419.2">L</tspan><tspan x="749.9" y="440.0">L</tspan></text><text fill="#00289e"><tspan x="763.4" y="128.0">Q</tspan><tspan x="763.4" y="148.8">Q</tspan><tspan x="763.4" y="169.6">Q</tspan><tspan x="763.4" y="190.4">Q</tspan><tspan x="763.4" y="211.2">Q</tspan><tspan x="763.4" y="232.0">Q</tspan><tspan x="763.4" y="252.8">Q</tspan><tspan x="763.4" y="273.6">Q</tspan><tspan x="763.4" y="294.4">Q</tspan><tspan x="763.4" y="315.2">Q</tspan><tspan x="763.4" y="336.0">Q</tspan><tspan x="763.4" y="356.8">Q</tspan><tspan x="763.4" y="377.6">Q</tspan><tspan x="763.4" y="398.4">Q</tspan><tspan x="763.4" y="419.2">Q</tspan><tspan x="763.4" y="440.0">Q</tspan></text><text fill="#194ba0"><tspan x="776.9" y="128.0">I</tspan><tspan x="776.9" y="148.8">V</tspan><tspan x="776.9" y="169.6">V</tspan><tspan x="776.9" y="190.4">V</tspan><tspan x="776.9" y="211.2">V</tspan><tspan x="776.9" y="232.0">V</tspan><tspan x="776.9" y="252.8">V</tspan><tspan x="776.9" y="273.6">V</tspan><tspan x="776.9" y="294.4">V</tspan><tspan x="776.9" y="315.2">V</tspan><tspan x="776.9" y="336.0">V</tspan><tspan x="776.9" y="356.8">V</tspan><tspan x="776.9" y="377.6">V</tspan><tspan x="776.9" y="398.4">V</tspan><tspan x="776.9" y="419.2">V</tspan><tspan x="776.9" y="440.0">V</tspan></text><text fill="#3365a0"><tspan x="790.4" y="128.0">R</tspan><tspan x="790.4" y="148.8">R</tspan><tspan x="790.4" y="169.6">C</tspan><tspan x="790.4" y="190.4">R</tspan><tspan x="790.4" y="211.2">R</tspan><tspan x="790.4" y="232.0">K</tspan><tspan x="790.4" y="252.8">K</tspan><tspan x="790.4" y="273.6">K</tspan><tspan x="790.4" y="294.4">K</tspan><tspan x="790.4" y="315.2">K</tspan><tspan x="790.4" y="336.0">K</tspan><tspan x="790.4" y="356.8">K</tspan><tspan x="790.4" y="377.6">Q</tspan><tspan x="790.4" y="398.4">Q</tspan><tspan x="790.4" y="419.2">Q</tspan><tspan x="790.4" y="440.0">K</tspan></text><text fill="#1342a0"><tspan x="803.9" y="128.0">P</tspan><tspan x="803.9" y="148.8">P</tspan><tspan x="803.9" y="169.6">P</tspan><tspan x="803.9" y="190.4">P</tspan><tspan x="803.9" y="211.2">P</tspan><tspan x="803.9" y="232.0">P</tspan><tspan x="803.9" y="252.8">P</tspan><tspan x="803.9" y="273.6">P</tspan><tspan x="803.9" y="294.4">P</tspan><tspan x="803.9" y="315.2">P</tspan><tspan x="803.9" y="336.0">P</tspan><tspan x="803.9" y="356.8">P</tspan><tspan x="803.9" y="377.6">P</tspan><tspan x="803.9" y="398.4">E</tspan><tspan x="803.9" y="419.2">E</tspan><tspan x="803.9" y="440.0">P</tspan></text><text fill="#2a5ca0"><tspan x="817.4" y="128.0">A</tspan><tspan x="817.4" y="148.8">A</tspan><tspan x="817.4" y="169.6">A</tspan><tspan x="817.4" y="190.4">A</tspan><tspan x="817.4" y="211.2">A</tspan><tspan x="817.4" y="232.0">P</tspan><tspan x="817.4" y="252.8">P</tspan><tspan x="817.4" y="273.6">P</tspan><tspan x="817.4" y="294.4">P</tspan><tspan x="817.4" y="315.2">A</tspan><tspan x="817.4" y="336.0">A</tspan><tspan x="817.4" y="356.8">A</tspan><tspan x="817.4" y="377.6">A</tspan><tspan x="817.4" y="398.4">A</tspan><tspan x="817.4" y="419.2">A</tspan><tspan x="817.4" y="440.0">A</tspan></text><text fill="#7ab4a0"><tspan x="830.9" y="128.0">D</tspan><tspan x="830.9" y="148.8">E</tspan><tspan x="830.9" y="169.6">E</tspan><tspan x="830.9" y="190.4">D</tspan><tspan x="830.9" y="211.2">D</tspan><tspan x="830.9" y="232.0">G</tspan><tspan x="830.9" y="252.8">D</tspan><tspan x="830.9" y="273.6">D</tspan><tspan x="830.9" y="294.4">Q</tspan><tspan x="830.9" y="315.2">E</tspan><tspan x="830.9" y="336.0">D</tspan><tspan x="830.9" y="356.8">G</tspan><tspan x="830.9" y="377.6">G</tspan><tspan x="830.9" y="398.4">D</tspan><tspan x="830.9" y="419.2">D</tspan><tspan x="830.9" y="440.0">E</tspan></text><text fill="#2a5ca0"><tspan x="844.4" y="128.0">G</tspan><tspan x="844.4" y="148.8">E</tspan><tspan x="844.4" y="169.6">G</tspan><tspan x="844.4" y="190.4">G</tspan><tspan x="844.4" y="211.2">G</tspan><tspan x="844.4" y="232.0">E</tspan><tspan x="844.4" y="252.8">Q</tspan><tspan x="844.4" y="273.6">E</tspan><tspan x="844.4" y="294.4">E</tspan><tspan x="844.4" y="315.2">V</tspan><tspan x="844.4" y="336.0">E</tspan><tspan x="844.4" y="356.8">E</tspan><tspan x="844.4" y="377.6">E</tspan><tspan x="844.4" y="398.4">E</tspan><tspan x="844.4" y="419.2">E</tspan><tspan x="844.4" y="440.0">E</tspan></text><text fill="#4477a0"><tspan x="857.9" y="128.0">D</tspan><tspan x="857.9" y="148.8">D</tspan><tspan x="857.9" y="169.6">D</tspan><tspan x="857.9" y="190.4">D</tspan><tspan x="857.9" y="211.2">D</tspan><tspan x="857.9" y="232.0">Q</tspan><tspan x="857.9" y="252.8">D</tspan><tspan x="857.9" y="273.6">E</tspan><tspan x="857.9" y="294.4">E</tspan><tspan x="857.9" y="315.2">D</tspan><tspan x="857.9" y="336.0">H</tspan><tspan x="857.9" y="356.8">K</tspan><tspan x="857.9" y="377.6">Q</tspan><tspan x="857.9" y="398.4">Q</tspan><tspan x="857.9" y="419.2">Q</tspan><tspan x="857.9" y="440.0">E</tspan></text><text fill="#4477a0"><tspan x="871.4" y="128.0">V</tspan><tspan x="871.4" y="148.8">A</tspan><tspan x="871.4" y="169.6">A</tspan><tspan x="871.4" y="190.4">A</tspan><tspan x="871.4" y="211.2">A</tspan><tspan x="871.4" y="232.0">L</tspan><tspan x="871.4" y="252.8">S</tspan><tspan x="871.4" y="273.6">S</tspan><tspan x="871.4" y="294.4">S</tspan><tspan x="871.4" y="315.2">S</tspan><tspan x="871.4" y="336.0">S</tspan><tspan x="871.4" y="356.8">S</tspan><tspan x="871.4" y="377.6">S</tspan><tspan x="871.4" y="398.4">L</tspan><tspan x="871.4" y="419.2">L</tspan><tspan x="871.4" y="440.0">A</tspan></text><text fill="#3c6ea0"><tspan x="884.9" y="128.0">A</tspan><tspan x="884.9" y="148.8">E</tspan><tspan x="884.9" y="169.6">T</tspan><tspan x="884.9" y="190.4">E</tspan><tspan x="884.9" y="211.2">A</tspan><tspan x="884.9" y="232.0">E</tspan><tspan x="884.9" y="252.8">E</tspan><tspan x="884.9" y="273.6">E</tspan><tspan x="884.9" y="294.4">E</tspan><tspan x="884.9" y="315.2">D</tspan><tspan x="884.9" y="336.0">E</tspan><tspan x="884.9" y="356.8">E</tspan><tspan x="884.9" y="377.6">E</tspan><tspan x="884.9" y="398.4">E</tspan><tspan x="884.9" y="419.2">E</tspan><tspan x="884.9" y="440.0">E</tspan></text><text fill="#1342a0"><tspan x="898.4" y="128.0">A</tspan><tspan x="898.4" y="148.8">S</tspan><tspan x="898.4" y="169.6">A</tspan><tspan x="898.4" y="190.4">A</tspan><tspan x="898.4" y="211.2">A</tspan><tspan x="898.4" y="232.0">A</tspan><tspan x="898.4" y="252.8">A</tspan><tspan x="898.4" y="273.6">A</tspan><tspan x="898.4" y="294.4">A</tspan><tspan x="898.4" y="315.2">A</tspan><tspan x="898.4" y="336.0">A</tspan><tspan x="898.4" y="356.8">A</tspan><tspan x="898.4" y="377.6">A</tspan><tspan x="898.4" y="398.4">A</tspan><tspan x="898.4" y="419.2">A</tspan><tspan x="898.4" y="440.0">A</tspan></text><text fill="#2254a0"><tspan x="911.9" y="128.0">Q</tspan><tspan x="911.9" y="148.8">Q</tspan><tspan x="911.9" y="169.6">Q</tspan><tspan x="911.9" y="190.4">Q</tspan><tspan x="911.9" y="211.2">Q</tspan><tspan x="911.9" y="232.0">E</tspan><tspan x="911.9" y="252.8">E</tspan><tspan x="911.9" y="273.6">E</tspan><tspan x="911.9" y="294.4">Q</tspan><tspan x="911.9" y="315.2">E</tspan><tspan x="911.9" y="336.0">Q</tspan><tspan x="911.9" y="356.8">Q</tspan><tspan x="911.9" y="377.6">Q</tspan><tspan x="911.9" y="398.4">Q</tspan><tspan x="911.9" y="419.2">Q</tspan><tspan x="911.9" y="440.0">Q</tspan></text><text fill="#2254a0"><tspan x="925.4" y="128.0">W</tspan><tspan x="925.4" y="148.8">W</tspan><tspan x="925.4" y="169.6">W</tspan><tspan x="925.4" y="190.4">W</tspan><tspan x="925.4" y="211.2">W</tspan><tspan x="925.4" y="232.0">W</tspan><tspan x="925.4" y="252.8">W</tspan><tspan x="925.4" y="273.6">W</tspan><tspan x="925.4" y="294.4">W</tspan><tspan x="925.4" y="315.2">W</tspan><tspan x="925.4" y="336.0">F</tspan><tspan x="925.4" y="356.8">F</tspan><tspan x="925.4" y="377.6">Y</tspan><tspan x="925.4" y="398.4">Y</tspan><tspan x="925.4" y="419.2">Y</tspan><tspan x="925.4" y="440.0">F</tspan></text><text fill="#1342a0"><tspan x="938.9" y="128.0">V</tspan><tspan x="938.9" y="148.8">V</tspan><tspan x="938.9" y="169.6">V</tspan><tspan x="938.9" y="190.4">V</tspan><tspan x="938.9" y="211.2">V</tspan><tspan x="938.9" y="232.0">V</tspan><tspan x="938.9" y="252.8">V</tspan><tspan x="938.9" y="273.6">V</tspan><tspan x="938.9" y="294.4">V</tspan><tspan x="938.9" y="315.2">V</tspan><tspan x="938.9" y="336.0">V</tspan><tspan x="938.9" y="356.8">V</tspan><tspan x="938.9" y="377.6">V</tspan><tspan x="938.9" y="398.4">V</tspan><tspan x="938.9" y="419.2">A</tspan><tspan x="938.9" y="440.0">V</tspan></text><text fill="#194ba0"><tspan x="952.4" y="128.0">E</tspan><tspan x="952.4" y="148.8">E</tspan><tspan x="952.4" y="169.6">E</tspan><tspan x="952.4" y="190.4">E</tspan><tspan x="952.4" y="211.2">E</tspan><tspan x="952.4" y="232.0">E</tspan><tspan x="952.4" y="252.8">E</tspan><tspan x="952.4" y="273.6">E</tspan><tspan x="952.4" y="294.4">Q</tspan><tspan x="952.4" y="315.2">E</tspan><tspan x="952.4" y="336.0">Q</tspan><tspan x="952.4" y="356.8">Q</tspan><tspan x="952.4" y="377.6">Q</tspan><tspan x="952.4" y="398.4">Q</tspan><tspan x="952.4" y="419.2">Q</tspan><tspan x="952.4" y="440.0">Q</tspan></text><text fill="#2254a0"><tspan x="965.9" y="128.0">V</tspan><tspan x="965.9" y="148.8">V</tspan><tspan x="965.9" y="169.6">V</tspan><tspan x="965.9" y="190.4">I</tspan><tspan x="965.9" y="211.2">I</tspan><tspan x="965.9" y="232.0">T</tspan><tspan x="965.9" y="252.8">I</tspan><tspan x="965.9" y="273.6">V</tspan><tspan x="965.9" y="294.4">I</tspan><tspan x="965.9" y="315.2">I</tspan><tspan x="965.9" y="336.0">I</tspan><tspan x="965.9" y="356.8">I</tspan><tspan x="965.9" y="377.6">I</tspan><tspan x="965.9" y="398.4">I</tspan><tspan x="965.9" y="419.2">I</tspan><tspan x="965.9" y="440.0">I</tspan></text><text fill="#6098a0"><tspan x="979.4" y="128.0">Q</tspan><tspan x="979.4" y="148.8">Q</tspan><tspan x="979.4" y="169.6">Q</tspan><tspan x="979.4" y="190.4">R</tspan><tspan x="979.4" y="211.2">R</tspan><tspan x="979.4" y="232.0">Q</tspan><tspan x="979.4" y="252.8">R</tspan><tspan x="979.4" y="273.6">N</tspan><tspan x="979.4" y="294.4">D</tspan><tspan x="979.4" y="315.2">Q</tspan><tspan x="979.4" y="336.0">E</tspan><tspan x="979.4" y="356.8">D</tspan><tspan x="979.4" y="377.6">N</tspan><tspan x="979.4" y="398.4">N</tspan><tspan x="979.4" y="419.2">N</tspan><tspan x="979.4" y="440.0">E</tspan></text><text fill="#06319e"><tspan x="992.9" y="128.0">R</tspan><tspan x="992.9" y="148.8">R</tspan><tspan x="992.9" y="169.6">R</tspan><tspan x="992.9" y="190.4">R</tspan><tspan x="992.9" y="211.2">R</tspan><tspan x="992.9" y="232.0">R</tspan><tspan x="992.9" y="252.8">K</tspan><tspan x="992.9" y="273.6">R</tspan><tspan x="992.9" y="294.4">R</tspan><tspan x="992.9" y="315.2">R</tspan><tspan x="992.9" y="336.0">R</tspan><tspan x="992.9" y="356.8">R</tspan><tspan x="992.9" y="377.6">R</tspan><tspan x="992.9" y="398.4">R</tspan><tspan x="992.9" y="419.2">R</tspan><tspan x="992.9" y="440.0">R</tspan></text><text fill="#06319e"><tspan x="1006.4" y="128.0">G</tspan><tspan x="1006.4" y="148.8">G</tspan><tspan x="1006.4" y="169.6">G</tspan><tspan x="1006.4" y="190.4">G</tspan><tspan x="1006.4" y="211.2">G</tspan><tspan x="1006.4" y="232.0">G</tspan><tspan x="1006.4" y="252.8">G</tspan><tspan x="1006.4" y="273.6">G</tspan><tspan x="1006.4" y="294.4">G</tspan><tspan x="1006.4" y="315.2">G</tspan><tspan x="1006.4" y="336.0">G</tspan><tspan x="1006.4" y="356.8">G</tspan><tspan x="1006.4" y="377.6">G</tspan><tspan x="1006.4" y="398.4">G</tspan><tspan x="1006.4" y="419.2">G</tspan><tspan x="1006.4" y="440.0">G</tspan></text><text fill="#0c3a9f"><tspan x="1019.9" y="128.0">L</tspan><tspan x="1019.9" y="148.8">L</tspan><tspan x="1019.9" y="169.6">L</tspan><tspan x="1019.9" y="190.4">L</tspan><tspan x="1019.9" y="211.2">L</tspan><tspan x="1019.9" y="232.0">M</tspan><tspan x="1019.9" y="252.8">M</tspan><tspan x="1019.9" y="273.6">M</tspan><tspan x="1019.9" y="294.4">M</tspan><tspan x="1019.9" y="315.2">M</tspan><tspan x="1019.9" y="336.0">M</tspan><tspan x="1019.9" y="356.8">M</tspan><tspan x="1019.9" y="377.6">M</tspan><tspan x="1019.9" y="398.4">M</tspan><tspan x="1019.9" y="419.2">M</tspan><tspan x="1019.9" y="440.0">M</tspan></text><text fill="#06319e"><tspan x="1033.4" y="128.0">V</tspan><tspan x="1033.4" y="148.8">V</tspan><tspan x="1033.4" y="169.6">V</tspan><tspan x="1033.4" y="190.4">V</tspan><tspan x="1033.4" y="211.2">V</tspan><tspan x="1033.4" y="232.0">V</tspan><tspan x="1033.4" y="252.8">V</tspan><tspan x="1033.4" y="273.6">V</tspan><tspan x="1033.4" y="294.4">V</tspan><tspan x="1033.4" y="315.2">V</tspan><tspan x="1033.4" y="336.0">V</tspan><tspan x="1033.4" y="356.8">V</tspan><tspan x="1033.4" y="377.6">V</tspan><tspan x="1033.4" y="398.4">V</tspan><tspan x="1033.4" y="419.2">V</tspan><tspan x="1033.4" y="440.0">V</tspan></text><text fill="#06319e"><tspan x="1046.9" y="128.0">I</tspan><tspan x="1046.9" y="148.8">I</tspan><tspan x="1046.9" y="169.6">I</tspan><tspan x="1046.9" y="190.4">I</tspan><tspan x="1046.9" y="211.2">I</tspan><tspan x="1046.9" y="232.0">I</tspan><tspan x="1046.9" y="252.8">V</tspan><tspan x="1046.9" y="273.6">I</tspan><tspan x="1046.9" y="294.4">I</tspan><tspan x="1046.9" y="315.2">I</tspan><tspan x="1046.9" y="336.0">I</tspan><tspan x="1046.9" y="356.8">I</tspan><tspan x="1046.9" y="377.6">I</tspan><tspan x="1046.9" y="398.4">I</tspan><tspan x="1046.9" y="419.2">I</tspan><tspan x="1046.9" y="440.0">I</tspan></text><text fill="#1342a0"><tspan x="1060.4" y="128.0">Y</tspan><tspan x="1060.4" y="148.8">Y</tspan><tspan x="1060.4" y="169.6">Y</tspan><tspan x="1060.4" y="190.4">Y</tspan><tspan x="1060.4" y="211.2">Y</tspan><tspan x="1060.4" y="232.0">Y</tspan><tspan x="1060.4" y="252.8">Y</tspan><tspan x="1060.4" y="273.6">Y</tspan><tspan x="1060.4" y="294.4">Y</tspan><tspan x="1060.4" y="315.2">Y</tspan><tspan x="1060.4" y="336.0">Y</tspan><tspan x="1060.4" y="356.8">H</tspan><tspan x="1060.4" y="377.6">Y</tspan><tspan x="1060.4" y="398.4">Y</tspan><tspan x="1060.4" y="419.2">Y</tspan><tspan x="1060.4" y="440.0">Y</tspan></text><text fill="#194ba0"><tspan x="1073.9" y="128.0">V</tspan><tspan x="1073.9" y="148.8">V</tspan><tspan x="1073.9" y="169.6">V</tspan><tspan x="1073.9" y="190.4">V</tspan><tspan x="1073.9" y="211.2">V</tspan><tspan x="1073.9" y="232.0">I</tspan><tspan x="1073.9" y="252.8">V</tspan><tspan x="1073.9" y="273.6">I</tspan><tspan x="1073.9" y="294.4">I</tspan><tspan x="1073.9" y="315.2">I</tspan><tspan x="1073.9" y="336.0">V</tspan><tspan x="1073.9" y="356.8">I</tspan><tspan x="1073.9" y="377.6">V</tspan><tspan x="1073.9" y="398.4">I</tspan><tspan x="1073.9" y="419.2">V</tspan><tspan x="1073.9" y="440.0">I</tspan></text><text fill="#0c3a9f"><tspan x="1087.4" y="128.0">C</tspan><tspan x="1087.4" y="148.8">C</tspan><tspan x="1087.4" y="169.6">C</tspan><tspan x="1087.4" y="190.4">C</tspan><tspan x="1087.4" y="211.2">C</tspan><tspan x="1087.4" y="232.0">C</tspan><tspan x="1087.4" y="252.8">C</tspan><tspan x="1087.4" y="273.6">C</tspan><tspan x="1087.4" y="294.4">C</tspan><tspan x="1087.4" y="315.2">C</tspan><tspan x="1087.4" y="336.0">C</tspan><tspan x="1087.4" y="356.8">C</tspan><tspan x="1087.4" y="377.6">C</tspan><tspan x="1087.4" y="398.4">C</tspan><tspan x="1087.4" y="419.2">C</tspan><tspan x="1087.4" y="440.0">C</tspan></text><text fill="#00289e"><tspan x="1100.9" y="128.0">F</tspan><tspan x="1100.9" y="148.8">F</tspan><tspan x="1100.9" y="169.6">F</tspan><tspan x="1100.9" y="190.4">F</tspan><tspan x="1100.9" y="211.2">F</tspan><tspan x="1100.9" y="232.0">F</tspan><tspan x="1100.9" y="252.8">F</tspan><tspan x="1100.9" y="273.6">F</tspan><tspan x="1100.9" y="294.4">F</tspan><tspan x="1100.9" y="315.2">F</tspan><tspan x="1100.9" y="336.0">F</tspan><tspan x="1100.9" y="356.8">F</tspan><tspan x="1100.9" y="377.6">F</tspan><tspan x="1100.9" y="398.4">F</tspan><tspan x="1100.9" y="419.2">F</tspan><tspan x="1100.9" y="440.0">F</tspan></text><text fill="#06319e"><tspan x="1114.4" y="128.0">F</tspan><tspan x="1114.4" y="148.8">F</tspan><tspan x="1114.4" y="169.6">F</tspan><tspan x="1114.4" y="190.4">F</tspan><tspan x="1114.4" y="211.2">F</tspan><tspan x="1114.4" y="232.0">F</tspan><tspan x="1114.4" y="252.8">F</tspan><tspan x="1114.4" y="273.6">F</tspan><tspan x="1114.4" y="294.4">F</tspan><tspan x="1114.4" y="315.2">F</tspan><tspan x="1114.4" y="336.0">F</tspan><tspan x="1114.4" y="356.8">F</tspan><tspan x="1114.4" y="377.6">F</tspan><tspan x="1114.4" y="398.4">F</tspan><tspan x="1114.4" y="419.2">F</tspan><tspan x="1114.4" y="440.0">F</tspan></text><text fill="#06319e"><tspan x="1127.9" y="128.0">K</tspan><tspan x="1127.9" y="148.8">K</tspan><tspan x="1127.9" y="169.6">K</tspan><tspan x="1127.9" y="190.4">K</tspan><tspan x="1127.9" y="211.2">K</tspan><tspan x="1127.9" y="232.0">K</tspan><tspan x="1127.9" y="252.8">N</tspan><tspan x="1127.9" y="273.6">K</tspan><tspan x="1127.9" y="294.4">K</tspan><tspan x="1127.9" y="315.2">K</tspan><tspan x="1127.9" y="336.0">K</tspan><tspan x="1127.9" y="356.8">K</tspan><tspan x="1127.9" y="377.6">K</tspan><tspan x="1127.9" y="398.4">K</tspan><tspan x="1127.9" y="419.2">K</tspan><tspan x="1127.9" y="440.0">K</tspan></text><text fill="#06319e"><tspan x="1141.3" y="128.0">G</tspan><tspan x="1141.3" y="148.8">G</tspan><tspan x="1141.3" y="169.6">G</tspan><tspan x="1141.3" y="190.4">G</tspan><tspan x="1141.3" y="211.2">G</tspan><tspan x="1141.3" y="232.0">G</tspan><tspan x="1141.3" y="252.8">G</tspan><tspan x="1141.3" y="273.6">G</tspan><tspan x="1141.3" y="294.4">G</tspan><tspan x="1141.3" y="315.2">G</tspan><tspan x="1141.3" y="336.0">G</tspan><tspan x="1141.3" y="356.8">G</tspan><tspan x="1141.3" y="377.6">G</tspan><tspan x="1141.3" y="398.4">G</tspan><tspan x="1141.3" y="419.2">G</tspan><tspan x="1141.3" y="440.0">G</tspan></text><text fill="#06319e"><tspan x="1154.8" y="128.0">A</tspan><tspan x="1154.8" y="148.8">A</tspan><tspan x="1154.8" y="169.6">A</tspan><tspan x="1154.8" y="190.4">A</tspan><tspan x="1154.8" y="211.2">A</tspan><tspan x="1154.8" y="232.0">A</tspan><tspan x="1154.8" y="252.8">A</tspan><tspan x="1154.8" y="273.6">A</tspan><tspan x="1154.8" y="294.4">A</tspan><tspan x="1154.8" y="315.2">A</tspan><tspan x="1154.8" y="336.0">A</tspan><tspan x="1154.8" y="356.8">A</tspan><tspan x="1154.8" y="377.6">A</tspan><tspan x="1154.8" y="398.4">A</tspan><tspan x="1154.8" y="419.2">A</tspan><tspan x="1154.8" y="440.0">A</tspan></text><text fill="#3c6ea0"><tspan x="1168.3" y="128.0">D</tspan><tspan x="1168.3" y="148.8">N</tspan><tspan x="1168.3" y="169.6">D</tspan><tspan x="1168.3" y="190.4">N</tspan><tspan x="1168.3" y="211.2">D</tspan><tspan x="1168.3" y="232.0">N</tspan><tspan x="1168.3" y="252.8">E</tspan><tspan x="1168.3" y="273.6">T</tspan><tspan x="1168.3" y="294.4">T</tspan><tspan x="1168.3" y="315.2">T</tspan><tspan x="1168.3" y="336.0">T</tspan><tspan x="1168.3" y="356.8">T</tspan><tspan x="1168.3" y="377.6">T</tspan><tspan x="1168.3" y="398.4">T</tspan><tspan x="1168.3" y="419.2">T</tspan><tspan x="1168.3" y="440.0">T</tspan></text><text fill="#4b80a0"><tspan x="1181.8" y="128.0">K</tspan><tspan x="1181.8" y="148.8">K</tspan><tspan x="1181.8" y="169.6">K</tspan><tspan x="1181.8" y="190.4">T</tspan><tspan x="1181.8" y="211.2">T</tspan><tspan x="1181.8" y="232.0">E</tspan><tspan x="1181.8" y="252.8">S</tspan><tspan x="1181.8" y="273.6">E</tspan><tspan x="1181.8" y="294.4">E</tspan><tspan x="1181.8" y="315.2">E</tspan><tspan x="1181.8" y="336.0">D</tspan><tspan x="1181.8" y="356.8">D</tspan><tspan x="1181.8" y="377.6">E</tspan><tspan x="1181.8" y="398.4">D</tspan><tspan x="1181.8" y="419.2">D</tspan><tspan x="1181.8" y="440.0">D</tspan></text><text fill="#3365a0"><tspan x="1195.3" y="128.0">E</tspan><tspan x="1195.3" y="148.8">E</tspan><tspan x="1195.3" y="169.6">E</tspan><tspan x="1195.3" y="190.4">E</tspan><tspan x="1195.3" y="211.2">D</tspan><tspan x="1195.3" y="232.0">D</tspan><tspan x="1195.3" y="252.8">S</tspan><tspan x="1195.3" y="273.6">D</tspan><tspan x="1195.3" y="294.4">D</tspan><tspan x="1195.3" y="315.2">G</tspan><tspan x="1195.3" y="336.0">D</tspan><tspan x="1195.3" y="356.8">D</tspan><tspan x="1195.3" y="377.6">D</tspan><tspan x="1195.3" y="398.4">D</tspan><tspan x="1195.3" y="419.2">D</tspan><tspan x="1195.3" y="440.0">D</tspan></text><text fill="#2a5ca0"><tspan x="1208.8" y="128.0">L</tspan><tspan x="1208.8" y="148.8">L</tspan><tspan x="1208.8" y="169.6">L</tspan><tspan x="1208.8" y="190.4">L</tspan><tspan x="1208.8" y="211.2">L</tspan><tspan x="1208.8" y="232.0">L</tspan><tspan x="1208.8" y="252.8">V</tspan><tspan x="1208.8" y="273.6">L</tspan><tspan x="1208.8" y="294.4">I</tspan><tspan x="1208.8" y="315.2">I</tspan><tspan x="1208.8" y="336.0">I</tspan><tspan x="1208.8" y="356.8">I</tspan><tspan x="1208.8" y="377.6">M</tspan><tspan x="1208.8" y="398.4">I</tspan><tspan x="1208.8" y="419.2">I</tspan><tspan x="1208.8" y="440.0">L</tspan></text><text fill="#1342a0"><tspan x="1222.3" y="128.0">L</tspan><tspan x="1222.3" y="148.8">L</tspan><tspan x="1222.3" y="169.6">L</tspan><tspan x="1222.3" y="190.4">L</tspan><tspan x="1222.3" y="211.2">L</tspan><tspan x="1222.3" y="232.0">I</tspan><tspan x="1222.3" y="252.8">I</tspan><tspan x="1222.3" y="273.6">I</tspan><tspan x="1222.3" y="294.4">I</tspan><tspan x="1222.3" y="315.2">I</tspan><tspan x="1222.3" y="336.0">L</tspan><tspan x="1222.3" y="356.8">L</tspan><tspan x="1222.3" y="377.6">L</tspan><tspan x="1222.3" y="398.4">L</tspan><tspan x="1222.3" y="419.2">L</tspan><tspan x="1222.3" y="440.0">L</tspan></text><text fill="#194ba0"><tspan x="1235.8" y="128.0">P</tspan><tspan x="1235.8" y="148.8">P</tspan><tspan x="1235.8" y="169.6">S</tspan><tspan x="1235.8" y="190.4">P</tspan><tspan x="1235.8" y="211.2">P</tspan><tspan x="1235.8" y="232.0">P</tspan><tspan x="1235.8" y="252.8">A</tspan><tspan x="1235.8" y="273.6">P</tspan><tspan x="1235.8" y="294.4">P</tspan><tspan x="1235.8" y="315.2">P</tspan><tspan x="1235.8" y="336.0">P</tspan><tspan x="1235.8" y="356.8">P</tspan><tspan x="1235.8" y="377.6">P</tspan><tspan x="1235.8" y="398.4">P</tspan><tspan x="1235.8" y="419.2">P</tspan><tspan x="1235.8" y="440.0">P</tspan></text><text fill="#0c3a9f"><tspan x="1249.3" y="128.0">K</tspan><tspan x="1249.3" y="148.8">K</tspan><tspan x="1249.3" y="169.6">K</tspan><tspan x="1249.3" y="190.4">K</tspan><tspan x="1249.3" y="211.2">K</tspan><tspan x="1249.3" y="232.0">K</tspan><tspan x="1249.3" y="252.8">K</tspan><tspan x="1249.3" y="273.6">K</tspan><tspan x="1249.3" y="294.4">K</tspan><tspan x="1249.3" y="315.2">K</tspan><tspan x="1249.3" y="336.0">K</tspan><tspan x="1249.3" y="356.8">K</tspan><tspan x="1249.3" y="377.6">R</tspan><tspan x="1249.3" y="398.4">K</tspan><tspan x="1249.3" y="419.2">K</tspan><tspan x="1249.3" y="440.0">K</tspan></text><text fill="#06319e"><tspan x="1262.8" y="128.0">M</tspan><tspan x="1262.8" y="148.8">M</tspan><tspan x="1262.8" y="169.6">M</tspan><tspan x="1262.8" y="190.4">M</tspan><tspan x="1262.8" y="211.2">M</tspan><tspan x="1262.8" y="232.0">M</tspan><tspan x="1262.8" y="252.8">M</tspan><tspan x="1262.8" y="273.6">M</tspan><tspan x="1262.8" y="294.4">M</tspan><tspan x="1262.8" y="315.2">M</tspan><tspan x="1262.8" y="336.0">M</tspan><tspan x="1262.8" y="356.8">M</tspan><tspan x="1262.8" y="377.6">M</tspan><tspan x="1262.8" y="398.4">M</tspan><tspan x="1262.8" y="419.2">M</tspan><tspan x="1262.8" y="440.0">M</tspan></text><text fill="#194ba0"><tspan x="1276.3" y="128.0">V</tspan><tspan x="1276.3" y="148.8">V</tspan><tspan x="1276.3" y="169.6">V</tspan><tspan x="1276.3" y="190.4">V</tspan><tspan x="1276.3" y="211.2">V</tspan><tspan x="1276.3" y="232.0">V</tspan><tspan x="1276.3" y="252.8">V</tspan><tspan x="1276.3" y="273.6">V</tspan><tspan x="1276.3" y="294.4">V</tspan><tspan x="1276.3" y="315.2">V</tspan><tspan x="1276.3" y="336.0">V</tspan><tspan x="1276.3" y="356.8">V</tspan><tspan x="1276.3" y="377.6">V</tspan><tspan x="1276.3" y="398.4">V</tspan><tspan x="1276.3" y="419.2">V</tspan><tspan x="1276.3" y="440.0">A</tspan></text><text fill="#2a5ca0"><tspan x="1289.8" y="128.0">N</tspan><tspan x="1289.8" y="148.8">N</tspan><tspan x="1289.8" y="169.6">N</tspan><tspan x="1289.8" y="190.4">N</tspan><tspan x="1289.8" y="211.2">N</tspan><tspan x="1289.8" y="232.0">S</tspan><tspan x="1289.8" y="252.8">S</tspan><tspan x="1289.8" y="273.6">N</tspan><tspan x="1289.8" y="294.4">N</tspan><tspan x="1289.8" y="315.2">G</tspan><tspan x="1289.8" y="336.0">S</tspan><tspan x="1289.8" y="356.8">S</tspan><tspan x="1289.8" y="377.6">S</tspan><tspan x="1289.8" y="398.4">S</tspan><tspan x="1289.8" y="419.2">S</tspan><tspan x="1289.8" y="440.0">S</tspan></text><text fill="#2254a0"><tspan x="1303.3" y="128.0">T</tspan><tspan x="1303.3" y="148.8">T</tspan><tspan x="1303.3" y="169.6">T</tspan><tspan x="1303.3" y="190.4">T</tspan><tspan x="1303.3" y="211.2">T</tspan><tspan x="1303.3" y="232.0">T</tspan><tspan x="1303.3" y="252.8">S</tspan><tspan x="1303.3" y="273.6">T</tspan><tspan x="1303.3" y="294.4">S</tspan><tspan x="1303.3" y="315.2">A</tspan><tspan x="1303.3" y="336.0">T</tspan><tspan x="1303.3" y="356.8">T</tspan><tspan x="1303.3" y="377.6">T</tspan><tspan x="1303.3" y="398.4">T</tspan><tspan x="1303.3" y="419.2">T</tspan><tspan x="1303.3" y="440.0">T</tspan></text><text fill="#00289e"><tspan x="1316.8" y="128.0">L</tspan><tspan x="1316.8" y="148.8">L</tspan><tspan x="1316.8" y="169.6">L</tspan><tspan x="1316.8" y="190.4">L</tspan><tspan x="1316.8" y="211.2">L</tspan><tspan x="1316.8" y="232.0">L</tspan><tspan x="1316.8" y="252.8">L</tspan><tspan x="1316.8" y="273.6">L</tspan><tspan x="1316.8" y="294.4">L</tspan><tspan x="1316.8" y="315.2">L</tspan><tspan x="1316.8" y="336.0">L</tspan><tspan x="1316.8" y="356.8">L</tspan><tspan x="1316.8" y="377.6">L</tspan><tspan x="1316.8" y="398.4">L</tspan><tspan x="1316.8" y="419.2">L</tspan><tspan x="1316.8" y="440.0">L</tspan></text><text fill="#00289e"><tspan x="1330.3" y="128.0">L</tspan><tspan x="1330.3" y="148.8">L</tspan><tspan x="1330.3" y="169.6">L</tspan><tspan x="1330.3" y="190.4">L</tspan><tspan x="1330.3" y="211.2">L</tspan><tspan x="1330.3" y="232.0">L</tspan><tspan x="1330.3" y="252.8">L</tspan><tspan x="1330.3" y="273.6">L</tspan><tspan x="1330.3" y="294.4">L</tspan><tspan x="1330.3" y="315.2">L</tspan><tspan x="1330.3" y="336.0">L</tspan><tspan x="1330.3" y="356.8">L</tspan><tspan x="1330.3" y="377.6">L</tspan><tspan x="1330.3" y="398.4">L</tspan><tspan x="1330.3" y="419.2">L</tspan><tspan x="1330.3" y="440.0">L</tspan></text><text fill="#0c3a9f"><tspan x="1343.8" y="128.0">N</tspan><tspan x="1343.8" y="148.8">N</tspan><tspan x="1343.8" y="169.6">N</tspan><tspan x="1343.8" y="190.4">N</tspan><tspan x="1343.8" y="211.2">N</tspan><tspan x="1343.8" y="232.0">N</tspan><tspan x="1343.8" y="252.8">S</tspan><tspan x="1343.8" y="273.6">N</tspan><tspan x="1343.8" y="294.4">N</tspan><tspan x="1343.8" y="315.2">N</tspan><tspan x="1343.8" y="336.0">N</tspan><tspan x="1343.8" y="356.8">N</tspan><tspan x="1343.8" y="377.6">N</tspan><tspan x="1343.8" y="398.4">N</tspan><tspan x="1343.8" y="419.2">N</tspan><tspan x="1343.8" y="440.0">N</tspan></text><text fill="#194ba0"><tspan x="1357.3" y="128.0">V</tspan><tspan x="1357.3" y="148.8">V</tspan><tspan x="1357.3" y="169.6">V</tspan><tspan x="1357.3" y="190.4">V</tspan><tspan x="1357.3" y="211.2">V</tspan><tspan x="1357.3" y="232.0">L</tspan><tspan x="1357.3" y="252.8">V</tspan><tspan x="1357.3" y="273.6">V</tspan><tspan x="1357.3" y="294.4">I</tspan><tspan x="1357.3" y="315.2">V</tspan><tspan x="1357.3" y="336.0">L</tspan><tspan x="1357.3" y="356.8">L</tspan><tspan x="1357.3" y="377.6">L</tspan><tspan x="1357.3" y="398.4">L</tspan><tspan x="1357.3" y="419.2">L</tspan><tspan x="1357.3" y="440.0">L</tspan></text><text fill="#0c3a9f"><tspan x="1370.8" y="128.0">K</tspan><tspan x="1370.8" y="148.8">K</tspan><tspan x="1370.8" y="169.6">K</tspan><tspan x="1370.8" y="190.4">K</tspan><tspan x="1370.8" y="211.2">K</tspan><tspan x="1370.8" y="232.0">K</tspan><tspan x="1370.8" y="252.8">K</tspan><tspan x="1370.8" y="273.6">K</tspan><tspan x="1370.8" y="294.4">K</tspan><tspan x="1370.8" y="315.2">K</tspan><tspan x="1370.8" y="336.0">R</tspan><tspan x="1370.8" y="356.8">R</tspan><tspan x="1370.8" y="377.6">R</tspan><tspan x="1370.8" y="398.4">R</tspan><tspan x="1370.8" y="419.2">R</tspan><tspan x="1370.8" y="440.0">R</tspan></text><text fill="#06319e"><tspan x="1384.3" y="128.0">L</tspan><tspan x="1384.3" y="148.8">L</tspan><tspan x="1384.3" y="169.6">L</tspan><tspan x="1384.3" y="190.4">L</tspan><tspan x="1384.3" y="211.2">L</tspan><tspan x="1384.3" y="232.0">L</tspan><tspan x="1384.3" y="252.8">L</tspan><tspan x="1384.3" y="273.6">L</tspan><tspan x="1384.3" y="294.4">L</tspan><tspan x="1384.3" y="315.2">L</tspan><tspan x="1384.3" y="336.0">L</tspan><tspan x="1384.3" y="356.8">L</tspan><tspan x="1384.3" y="377.6">L</tspan><tspan x="1384.3" y="398.4">L</tspan><tspan x="1384.3" y="419.2">L</tspan><tspan x="1384.3" y="440.0">L</tspan></text><text fill="#2254a0"><tspan x="1397.8" y="128.0">S</tspan><tspan x="1397.8" y="148.8">S</tspan><tspan x="1397.8" y="169.6">S</tspan><tspan x="1397.8" y="190.4">S</tspan><tspan x="1397.8" y="211.2">S</tspan><tspan x="1397.8" y="232.0">C</tspan><tspan x="1397.8" y="252.8">S</tspan><tspan x="1397.8" y="273.6">C</tspan><tspan x="1397.8" y="294.4">C</tspan><tspan x="1397.8" y="315.2">C</tspan><tspan x="1397.8" y="336.0">S</tspan><tspan x="1397.8" y="356.8">C</tspan><tspan x="1397.8" y="377.6">C</tspan><tspan x="1397.8" y="398.4">C</tspan><tspan x="1397.8" y="419.2">C</tspan><tspan x="1397.8" y="440.0">C</tspan></text><text fill="#06319e"><tspan x="1411.3" y="128.0">E</tspan><tspan x="1411.3" y="148.8">E</tspan><tspan x="1411.3" y="169.6">E</tspan><tspan x="1411.3" y="190.4">E</tspan><tspan x="1411.3" y="211.2">E</tspan><tspan x="1411.3" y="232.0">E</tspan><tspan x="1411.3" y="252.8">E</tspan><tspan x="1411.3" y="273.6">E</tspan><tspan x="1411.3" y="294.4">E</tspan><tspan x="1411.3" y="315.2">E</tspan><tspan x="1411.3" y="336.0">E</tspan><tspan x="1411.3" y="356.8">E</tspan><tspan x="1411.3" y="377.6">E</tspan><tspan x="1411.3" y="398.4">E</tspan><tspan x="1411.3" y="419.2">E</tspan><tspan x="1411.3" y="440.0">E</tspan></text><text fill="#3c6ea0"><tspan x="1424.8" y="128.0">T</tspan><tspan x="1424.8" y="148.8">T</tspan><tspan x="1424.8" y="169.6">T</tspan><tspan x="1424.8" y="190.4">T</tspan><tspan x="1424.8" y="211.2">T</tspan><tspan x="1424.8" y="232.0">T</tspan><tspan x="1424.8" y="252.8">S</tspan><tspan x="1424.8" y="273.6">T</tspan><tspan x="1424.8" y="294.4">T</tspan><tspan x="1424.8" y="315.2">L</tspan><tspan x="1424.8" y="336.0">S</tspan><tspan x="1424.8" y="356.8">A</tspan><tspan x="1424.8" y="377.6">S</tspan><tspan x="1424.8" y="398.4">L</tspan><tspan x="1424.8" y="419.2">L</tspan><tspan x="1424.8" y="440.0">S</tspan></text><text fill="#6098a0"><tspan x="1438.3" y="128.0">E</tspan><tspan x="1438.3" y="148.8">E</tspan><tspan x="1438.3" y="169.6">E</tspan><tspan x="1438.3" y="190.4">E</tspan><tspan x="1438.3" y="211.2">E</tspan><tspan x="1438.3" y="232.0">E</tspan><tspan x="1438.3" y="252.8">D</tspan><tspan x="1438.3" y="273.6">E</tspan><tspan x="1438.3" y="294.4">D</tspan><tspan x="1438.3" y="315.2">D</tspan><tspan x="1438.3" y="336.0">A</tspan><tspan x="1438.3" y="356.8">E</tspan><tspan x="1438.3" y="377.6">S</tspan><tspan x="1438.3" y="398.4">P</tspan><tspan x="1438.3" y="419.2">P</tspan><tspan x="1438.3" y="440.0">D</tspan></text><text fill="#2a5ca0"><tspan x="1451.8" y="128.0">N</tspan><tspan x="1451.8" y="148.8">N</tspan><tspan x="1451.8" y="169.6">N</tspan><tspan x="1451.8" y="190.4">T</tspan><tspan x="1451.8" y="211.2">T</tspan><tspan x="1451.8" y="232.0">N</tspan><tspan x="1451.8" y="252.8">N</tspan><tspan x="1451.8" y="273.6">S</tspan><tspan x="1451.8" y="294.4">A</tspan><tspan x="1451.8" y="315.2">S</tspan><tspan x="1451.8" y="336.0">S</tspan><tspan x="1451.8" y="356.8">S</tspan><tspan x="1451.8" y="377.6">S</tspan><tspan x="1451.8" y="398.4">S</tspan><tspan x="1451.8" y="419.2">S</tspan><tspan x="1451.8" y="440.0">S</tspan></text><text fill="#00289e"><tspan x="1465.3" y="128.0">G</tspan><tspan x="1465.3" y="148.8">G</tspan><tspan x="1465.3" y="169.6">G</tspan><tspan x="1465.3" y="190.4">G</tspan><tspan x="1465.3" y="211.2">G</tspan><tspan x="1465.3" y="232.0">G</tspan><tspan x="1465.3" y="252.8">G</tspan><tspan x="1465.3" y="273.6">G</tspan><tspan x="1465.3" y="294.4">G</tspan><tspan x="1465.3" y="315.2">G</tspan><tspan x="1465.3" y="336.0">G</tspan><tspan x="1465.3" y="356.8">G</tspan><tspan x="1465.3" y="377.6">G</tspan><tspan x="1465.3" y="398.4">G</tspan><tspan x="1465.3" y="419.2">G</tspan><tspan x="1465.3" y="440.0">G</tspan></text><text fill="#0c3a9f"><tspan x="1478.8" y="128.0">K</tspan><tspan x="1478.8" y="148.8">K</tspan><tspan x="1478.8" y="169.6">K</tspan><tspan x="1478.8" y="190.4">K</tspan><tspan x="1478.8" y="211.2">K</tspan><tspan x="1478.8" y="232.0">K</tspan><tspan x="1478.8" y="252.8">K</tspan><tspan x="1478.8" y="273.6">K</tspan><tspan x="1478.8" y="294.4">K</tspan><tspan x="1478.8" y="315.2">K</tspan><tspan x="1478.8" y="336.0">K</tspan><tspan x="1478.8" y="356.8">K</tspan><tspan x="1478.8" y="377.6">K</tspan><tspan x="1478.8" y="398.4">K</tspan><tspan x="1478.8" y="419.2">K</tspan><tspan x="1478.8" y="440.0">K</tspan></text><text fill="#4b80a0"><tspan x="1492.3" y="128.0">H</tspan><tspan x="1492.3" y="148.8">H</tspan><tspan x="1492.3" y="169.6">H</tspan><tspan x="1492.3" y="190.4">H</tspan><tspan x="1492.3" y="211.2">H</tspan><tspan x="1492.3" y="232.0">Y</tspan><tspan x="1492.3" y="252.8">R</tspan><tspan x="1492.3" y="273.6">F</tspan><tspan x="1492.3" y="294.4">Y</tspan><tspan x="1492.3" y="315.2">Y</tspan><tspan x="1492.3" y="336.0">M</tspan><tspan x="1492.3" y="356.8">M</tspan><tspan x="1492.3" y="377.6">L</tspan><tspan x="1492.3" y="398.4">R</tspan><tspan x="1492.3" y="419.2">R</tspan><tspan x="1492.3" y="440.0">M</tspan></text><text fill="#0c3a9f"><tspan x="1505.8" y="128.0">V</tspan><tspan x="1505.8" y="148.8">V</tspan><tspan x="1505.8" y="169.6">V</tspan><tspan x="1505.8" y="190.4">V</tspan><tspan x="1505.8" y="211.2">V</tspan><tspan x="1505.8" y="232.0">V</tspan><tspan x="1505.8" y="252.8">V</tspan><tspan x="1505.8" y="273.6">T</tspan><tspan x="1505.8" y="294.4">T</tspan><tspan x="1505.8" y="315.2">V</tspan><tspan x="1505.8" y="336.0">V</tspan><tspan x="1505.8" y="356.8">V</tspan><tspan x="1505.8" y="377.6">V</tspan><tspan x="1505.8" y="398.4">V</tspan><tspan x="1505.8" y="419.2">V</tspan><tspan x="1505.8" y="440.0">V</tspan></text><text fill="#1342a0"><tspan x="1519.3" y="128.0">S</tspan><tspan x="1519.3" y="148.8">S</tspan><tspan x="1519.3" y="169.6">S</tspan><tspan x="1519.3" y="190.4">S</tspan><tspan x="1519.3" y="211.2">S</tspan><tspan x="1519.3" y="232.0">S</tspan><tspan x="1519.3" y="252.8">S</tspan><tspan x="1519.3" y="273.6">S</tspan><tspan x="1519.3" y="294.4">S</tspan><tspan x="1519.3" y="315.2">S</tspan><tspan x="1519.3" y="336.0">S</tspan><tspan x="1519.3" y="356.8">S</tspan><tspan x="1519.3" y="377.6">S</tspan><tspan x="1519.3" y="398.4">S</tspan><tspan x="1519.3" y="419.2">S</tspan><tspan x="1519.3" y="440.0">S</tspan></text><text fill="#06319e"><tspan x="1532.8" y="128.0">I</tspan><tspan x="1532.8" y="148.8">I</tspan><tspan x="1532.8" y="169.6">I</tspan><tspan x="1532.8" y="190.4">I</tspan><tspan x="1532.8" y="211.2">I</tspan><tspan x="1532.8" y="232.0">V</tspan><tspan x="1532.8" y="252.8">I</tspan><tspan x="1532.8" y="273.6">V</tspan><tspan x="1532.8" y="294.4">V</tspan><tspan x="1532.8" y="315.2">V</tspan><tspan x="1532.8" y="336.0">V</tspan><tspan x="1532.8" y="356.8">V</tspan><tspan x="1532.8" y="377.6">V</tspan><tspan x="1532.8" y="398.4">V</tspan><tspan x="1532.8" y="419.2">V</tspan><tspan x="1532.8" y="440.0">V</tspan></text><text fill="#1342a0"><tspan x="1546.3" y="128.0">L</tspan><tspan x="1546.3" y="148.8">L</tspan><tspan x="1546.3" y="169.6">L</tspan><tspan x="1546.3" y="190.4">L</tspan><tspan x="1546.3" y="211.2">L</tspan><tspan x="1546.3" y="232.0">L</tspan><tspan x="1546.3" y="252.8">L</tspan><tspan x="1546.3" y="273.6">L</tspan><tspan x="1546.3" y="294.4">L</tspan><tspan x="1546.3" y="315.2">L</tspan><tspan x="1546.3" y="336.0">L</tspan><tspan x="1546.3" y="356.8">L</tspan><tspan x="1546.3" y="377.6">L</tspan><tspan x="1546.3" y="398.4">L</tspan><tspan x="1546.3" y="419.2">L</tspan><tspan x="1546.3" y="440.0">S</tspan></text><text fill="#3365a0"><tspan x="1559.8" y="128.0">D</tspan><tspan x="1559.8" y="148.8">D</tspan><tspan x="1559.8" y="169.6">D</tspan><tspan x="1559.8" y="190.4">D</tspan><tspan x="1559.8" y="211.2">D</tspan><tspan x="1559.8" y="232.0">D</tspan><tspan x="1559.8" y="252.8">D</tspan><tspan x="1559.8" y="273.6">Q</tspan><tspan x="1559.8" y="294.4">D</tspan><tspan x="1559.8" y="315.2">D</tspan><tspan x="1559.8" y="336.0">D</tspan><tspan x="1559.8" y="356.8">E</tspan><tspan x="1559.8" y="377.6">E</tspan><tspan x="1559.8" y="398.4">E</tspan><tspan x="1559.8" y="419.2">E</tspan><tspan x="1559.8" y="440.0">E</tspan></text><text fill="#06319e"><tspan x="1573.3" y="128.0">L</tspan><tspan x="1573.3" y="148.8">L</tspan><tspan x="1573.3" y="169.6">L</tspan><tspan x="1573.3" y="190.4">L</tspan><tspan x="1573.3" y="211.2">L</tspan><tspan x="1573.3" y="232.0">L</tspan><tspan x="1573.3" y="252.8">L</tspan><tspan x="1573.3" y="273.6">L</tspan><tspan x="1573.3" y="294.4">L</tspan><tspan x="1573.3" y="315.2">L</tspan><tspan x="1573.3" y="336.0">L</tspan><tspan x="1573.3" y="356.8">L</tspan><tspan x="1573.3" y="377.6">L</tspan><tspan x="1573.3" y="398.4">L</tspan><tspan x="1573.3" y="419.2">L</tspan><tspan x="1573.3" y="440.0">L</tspan></text><text fill="#06319e"><tspan x="1586.8" y="128.0">P</tspan><tspan x="1586.8" y="148.8">P</tspan><tspan x="1586.8" y="169.6">P</tspan><tspan x="1586.8" y="190.4">P</tspan><tspan x="1586.8" y="211.2">P</tspan><tspan x="1586.8" y="232.0">P</tspan><tspan x="1586.8" y="252.8">P</tspan><tspan x="1586.8" y="273.6">P</tspan><tspan x="1586.8" y="294.4">P</tspan><tspan x="1586.8" y="315.2">P</tspan><tspan x="1586.8" y="336.0">P</tspan><tspan x="1586.8" y="356.8">P</tspan><tspan x="1586.8" y="377.6">P</tspan><tspan x="1586.8" y="398.4">P</tspan><tspan x="1586.8" y="419.2">P</tspan><tspan x="1586.8" y="440.0">P</tspan></text><text fill="#06319e"><tspan x="1600.2" y="128.0">G</tspan><tspan x="1600.2" y="148.8">G</tspan><tspan x="1600.2" y="169.6">G</tspan><tspan x="1600.2" y="190.4">G</tspan><tspan x="1600.2" y="211.2">G</tspan><tspan x="1600.2" y="232.0">G</tspan><tspan x="1600.2" y="252.8">G</tspan><tspan x="1600.2" y="273.6">G</tspan><tspan x="1600.2" y="294.4">G</tspan><tspan x="1600.2" y="315.2">G</tspan><tspan x="1600.2" y="336.0">G</tspan><tspan x="1600.2" y="356.8">G</tspan><tspan x="1600.2" y="377.6">G</tspan><tspan x="1600.2" y="398.4">G</tspan><tspan x="1600.2" y="419.2">G</tspan><tspan x="1600.2" y="440.0">G</tspan></text><text fill="#5a91a0"><tspan x="1613.7" y="128.0">N</tspan><tspan x="1613.7" y="148.8">N</tspan><tspan x="1613.7" y="169.6">D</tspan><tspan x="1613.7" y="190.4">D</tspan><tspan x="1613.7" y="211.2">D</tspan><tspan x="1613.7" y="232.0">S</tspan><tspan x="1613.7" y="252.8">D</tspan><tspan x="1613.7" y="273.6">S</tspan><tspan x="1613.7" y="294.4">N</tspan><tspan x="1613.7" y="315.2">H</tspan><tspan x="1613.7" y="336.0">S</tspan><tspan x="1613.7" y="356.8">S</tspan><tspan x="1613.7" y="377.6">S</tspan><tspan x="1613.7" y="398.4">S</tspan><tspan x="1613.7" y="419.2">S</tspan><tspan x="1613.7" y="440.0">D</tspan></text><text fill="#2254a0"><tspan x="1627.2" y="128.0">I</tspan><tspan x="1627.2" y="148.8">V</tspan><tspan x="1627.2" y="169.6">V</tspan><tspan x="1627.2" y="190.4">I</tspan><tspan x="1627.2" y="211.2">V</tspan><tspan x="1627.2" y="232.0">I</tspan><tspan x="1627.2" y="252.8">V</tspan><tspan x="1627.2" y="273.6">V</tspan><tspan x="1627.2" y="294.4">V</tspan><tspan x="1627.2" y="315.2">V</tspan><tspan x="1627.2" y="336.0">L</tspan><tspan x="1627.2" y="356.8">L</tspan><tspan x="1627.2" y="377.6">L</tspan><tspan x="1627.2" y="398.4">L</tspan><tspan x="1627.2" y="419.2">L</tspan><tspan x="1627.2" y="440.0">L</tspan></text><text fill="#06319e"><tspan x="1640.7" y="128.0">L</tspan><tspan x="1640.7" y="148.8">L</tspan><tspan x="1640.7" y="169.6">L</tspan><tspan x="1640.7" y="190.4">L</tspan><tspan x="1640.7" y="211.2">L</tspan><tspan x="1640.7" y="232.0">L</tspan><tspan x="1640.7" y="252.8">L</tspan><tspan x="1640.7" y="273.6">L</tspan><tspan x="1640.7" y="294.4">L</tspan><tspan x="1640.7" y="315.2">L</tspan><tspan x="1640.7" y="336.0">L</tspan><tspan x="1640.7" y="356.8">L</tspan><tspan x="1640.7" y="377.6">L</tspan><tspan x="1640.7" y="398.4">L</tspan><tspan x="1640.7" y="419.2">L</tspan><tspan x="1640.7" y="440.0">L</tspan></text><text fill="#06319e"><tspan x="1654.2" y="128.0">I</tspan><tspan x="1654.2" y="148.8">I</tspan><tspan x="1654.2" y="169.6">I</tspan><tspan x="1654.2" y="190.4">I</tspan><tspan x="1654.2" y="211.2">I</tspan><tspan x="1654.2" y="232.0">I</tspan><tspan x="1654.2" y="252.8">I</tspan><tspan x="1654.2" y="273.6">I</tspan><tspan x="1654.2" y="294.4">I</tspan><tspan x="1654.2" y="315.2">V</tspan><tspan x="1654.2" y="336.0">I</tspan><tspan x="1654.2" y="356.8">I</tspan><tspan x="1654.2" y="377.6">I</tspan><tspan x="1654.2" y="398.4">I</tspan><tspan x="1654.2" y="419.2">I</tspan><tspan x="1654.2" y="440.0">I</tspan></text><text fill="#06319e"><tspan x="1667.7" y="128.0">I</tspan><tspan x="1667.7" y="148.8">I</tspan><tspan x="1667.7" y="169.6">I</tspan><tspan x="1667.7" y="190.4">I</tspan><tspan x="1667.7" y="211.2">I</tspan><tspan x="1667.7" y="232.0">V</tspan><tspan x="1667.7" y="252.8">V</tspan><tspan x="1667.7" y="273.6">V</tspan><tspan x="1667.7" y="294.4">V</tspan><tspan x="1667.7" y="315.2">V</tspan><tspan x="1667.7" y="336.0">V</tspan><tspan x="1667.7" y="356.8">V</tspan><tspan x="1667.7" y="377.6">V</tspan><tspan x="1667.7" y="398.4">V</tspan><tspan x="1667.7" y="419.2">V</tspan><tspan x="1667.7" y="440.0">V</tspan></text><text fill="#06319e"><tspan x="1681.2" y="128.0">P</tspan><tspan x="1681.2" y="148.8">P</tspan><tspan x="1681.2" y="169.6">P</tspan><tspan x="1681.2" y="190.4">P</tspan><tspan x="1681.2" y="211.2">P</tspan><tspan x="1681.2" y="232.0">P</tspan><tspan x="1681.2" y="252.8">P</tspan><tspan x="1681.2" y="273.6">P</tspan><tspan x="1681.2" y="294.4">P</tspan><tspan x="1681.2" y="315.2">P</tspan><tspan x="1681.2" y="336.0">P</tspan><tspan x="1681.2" y="356.8">P</tspan><tspan x="1681.2" y="377.6">P</tspan><tspan x="1681.2" y="398.4">P</tspan><tspan x="1681.2" y="419.2">P</tspan><tspan x="1681.2" y="440.0">P</tspan></text><text fill="#00289e"><tspan x="1694.7" y="128.0">Q</tspan><tspan x="1694.7" y="148.8">Q</tspan><tspan x="1694.7" y="169.6">Q</tspan><tspan x="1694.7" y="190.4">Q</tspan><tspan x="1694.7" y="211.2">Q</tspan><tspan x="1694.7" y="232.0">Q</tspan><tspan x="1694.7" y="252.8">Q</tspan><tspan x="1694.7" y="273.6">Q</tspan><tspan x="1694.7" y="294.4">Q</tspan><tspan x="1694.7" y="315.2">Q</tspan><tspan x="1694.7" y="336.0">Q</tspan><tspan x="1694.7" y="356.8">Q</tspan><tspan x="1694.7" y="377.6">Q</tspan><tspan x="1694.7" y="398.4">Q</tspan><tspan x="1694.7" y="419.2">Q</tspan><tspan x="1694.7" y="440.0">Q</tspan></text><text fill="#06319e"><tspan x="1708.2" y="128.0">A</tspan><tspan x="1708.2" y="148.8">A</tspan><tspan x="1708.2" y="169.6">A</tspan><tspan x="1708.2" y="190.4">A</tspan><tspan x="1708.2" y="211.2">A</tspan><tspan x="1708.2" y="232.0">A</tspan><tspan x="1708.2" y="252.8">A</tspan><tspan x="1708.2" y="273.6">A</tspan><tspan x="1708.2" y="294.4">A</tspan><tspan x="1708.2" y="315.2">A</tspan><tspan x="1708.2" y="336.0">A</tspan><tspan x="1708.2" y="356.8">A</tspan><tspan x="1708.2" y="377.6">A</tspan><tspan x="1708.2" y="398.4">A</tspan><tspan x="1708.2" y="419.2">A</tspan><tspan x="1708.2" y="440.0">A</tspan></text><text fill="#06319e"><tspan x="1721.7" y="128.0">T</tspan><tspan x="1721.7" y="148.8">T</tspan><tspan x="1721.7" y="169.6">T</tspan><tspan x="1721.7" y="190.4">T</tspan><tspan x="1721.7" y="211.2">T</tspan><tspan x="1721.7" y="232.0">T</tspan><tspan x="1721.7" y="252.8">T</tspan><tspan x="1721.7" y="273.6">T</tspan><tspan x="1721.7" y="294.4">T</tspan><tspan x="1721.7" y="315.2">T</tspan><tspan x="1721.7" y="336.0">T</tspan><tspan x="1721.7" y="356.8">T</tspan><tspan x="1721.7" y="377.6">T</tspan><tspan x="1721.7" y="398.4">T</tspan><tspan x="1721.7" y="419.2">T</tspan><tspan x="1721.7" y="440.0">T</tspan></text><text fill="#06319e"><tspan x="1735.2" y="128.0">L</tspan><tspan x="1735.2" y="148.8">L</tspan><tspan x="1735.2" y="169.6">L</tspan><tspan x="1735.2" y="190.4">L</tspan><tspan x="1735.2" y="211.2">L</tspan><tspan x="1735.2" y="232.0">L</tspan><tspan x="1735.2" y="252.8">L</tspan><tspan x="1735.2" y="273.6">L</tspan><tspan x="1735.2" y="294.4">L</tspan><tspan x="1735.2" y="315.2">L</tspan><tspan x="1735.2" y="336.0">L</tspan><tspan x="1735.2" y="356.8">L</tspan><tspan x="1735.2" y="377.6">L</tspan><tspan x="1735.2" y="398.4">L</tspan><tspan x="1735.2" y="419.2">L</tspan><tspan x="1735.2" y="440.0">L</tspan></text><text fill="#06319e"><tspan x="1748.7" y="128.0">G</tspan><tspan x="1748.7" y="148.8">G</tspan><tspan x="1748.7" y="169.6">G</tspan><tspan x="1748.7" y="190.4">G</tspan><tspan x="1748.7" y="211.2">G</tspan><tspan x="1748.7" y="232.0">G</tspan><tspan x="1748.7" y="252.8">G</tspan><tspan x="1748.7" y="273.6">G</tspan><tspan x="1748.7" y="294.4">G</tspan><tspan x="1748.7" y="315.2">G</tspan><tspan x="1748.7" y="336.0">G</tspan><tspan x="1748.7" y="356.8">G</tspan><tspan x="1748.7" y="377.6">G</tspan><tspan x="1748.7" y="398.4">G</tspan><tspan x="1748.7" y="419.2">G</tspan><tspan x="1748.7" y="440.0">G</tspan></text><text fill="#06319e"><tspan x="1762.2" y="128.0">G</tspan><tspan x="1762.2" y="148.8">G</tspan><tspan x="1762.2" y="169.6">G</tspan><tspan x="1762.2" y="190.4">G</tspan><tspan x="1762.2" y="211.2">G</tspan><tspan x="1762.2" y="232.0">G</tspan><tspan x="1762.2" y="252.8">G</tspan><tspan x="1762.2" y="273.6">G</tspan><tspan x="1762.2" y="294.4">G</tspan><tspan x="1762.2" y="315.2">G</tspan><tspan x="1762.2" y="336.0">G</tspan><tspan x="1762.2" y="356.8">G</tspan><tspan x="1762.2" y="377.6">G</tspan><tspan x="1762.2" y="398.4">G</tspan><tspan x="1762.2" y="419.2">G</tspan><tspan x="1762.2" y="440.0">G</tspan></text><text fill="#2a5ca0"><tspan x="1775.7" y="128.0">R</tspan><tspan x="1775.7" y="148.8">R</tspan><tspan x="1775.7" y="169.6">R</tspan><tspan x="1775.7" y="190.4">R</tspan><tspan x="1775.7" y="211.2">R</tspan><tspan x="1775.7" y="232.0">K</tspan><tspan x="1775.7" y="252.8">K</tspan><tspan x="1775.7" y="273.6">K</tspan><tspan x="1775.7" y="294.4">K</tspan><tspan x="1775.7" y="315.2">R</tspan><tspan x="1775.7" y="336.0">K</tspan><tspan x="1775.7" y="356.8">K</tspan><tspan x="1775.7" y="377.6">R</tspan><tspan x="1775.7" y="398.4">K</tspan><tspan x="1775.7" y="419.2">K</tspan><tspan x="1775.7" y="440.0">K</tspan></text><text fill="#4b80a0"><tspan x="1789.2" y="128.0">L</tspan><tspan x="1789.2" y="148.8">V</tspan><tspan x="1789.2" y="169.6">V</tspan><tspan x="1789.2" y="190.4">V</tspan><tspan x="1789.2" y="211.2">V</tspan><tspan x="1789.2" y="232.0">A</tspan><tspan x="1789.2" y="252.8">A</tspan><tspan x="1789.2" y="273.6">P</tspan><tspan x="1789.2" y="294.4">S</tspan><tspan x="1789.2" y="315.2">A</tspan><tspan x="1789.2" y="336.0">A</tspan><tspan x="1789.2" y="356.8">A</tspan><tspan x="1789.2" y="377.6">P</tspan><tspan x="1789.2" y="398.4">A</tspan><tspan x="1789.2" y="419.2">A</tspan><tspan x="1789.2" y="440.0">A</tspan></text><text fill="#06319e"><tspan x="1802.7" y="128.0">K</tspan><tspan x="1802.7" y="148.8">K</tspan><tspan x="1802.7" y="169.6">K</tspan><tspan x="1802.7" y="190.4">K</tspan><tspan x="1802.7" y="211.2">K</tspan><tspan x="1802.7" y="232.0">K</tspan><tspan x="1802.7" y="252.8">K</tspan><tspan x="1802.7" y="273.6">K</tspan><tspan x="1802.7" y="294.4">K</tspan><tspan x="1802.7" y="315.2">K</tspan><tspan x="1802.7" y="336.0">K</tspan><tspan x="1802.7" y="356.8">K</tspan><tspan x="1802.7" y="377.6">K</tspan><tspan x="1802.7" y="398.4">K</tspan><tspan x="1802.7" y="419.2">K</tspan><tspan x="1802.7" y="440.0">K</tspan></text><text fill="#06319e"><tspan x="1816.2" y="128.0">G</tspan><tspan x="1816.2" y="148.8">G</tspan><tspan x="1816.2" y="169.6">G</tspan><tspan x="1816.2" y="190.4">G</tspan><tspan x="1816.2" y="211.2">G</tspan><tspan x="1816.2" y="232.0">G</tspan><tspan x="1816.2" y="252.8">G</tspan><tspan x="1816.2" y="273.6">G</tspan><tspan x="1816.2" y="294.4">G</tspan><tspan x="1816.2" y="315.2">G</tspan><tspan x="1816.2" y="336.0">G</tspan><tspan x="1816.2" y="356.8">G</tspan><tspan x="1816.2" y="377.6">G</tspan><tspan x="1816.2" y="398.4">G</tspan><tspan x="1816.2" y="419.2">G</tspan><tspan x="1816.2" y="440.0">G</tspan></text><text fill="#2a5ca0"><tspan x="1829.7" y="128.0">R</tspan><tspan x="1829.7" y="148.8">R</tspan><tspan x="1829.7" y="169.6">R</tspan><tspan x="1829.7" y="190.4">R</tspan><tspan x="1829.7" y="211.2">R</tspan><tspan x="1829.7" y="232.0">R</tspan><tspan x="1829.7" y="252.8">R</tspan><tspan x="1829.7" y="273.6">R</tspan><tspan x="1829.7" y="294.4">K</tspan><tspan x="1829.7" y="315.2">K</tspan><tspan x="1829.7" y="336.0">R</tspan><tspan x="1829.7" y="356.8">R</tspan><tspan x="1829.7" y="377.6">R</tspan><tspan x="1829.7" y="398.4">K</tspan><tspan x="1829.7" y="419.2">K</tspan><tspan x="1829.7" y="440.0">R</tspan></text><text fill="#7ab4a0"><tspan x="1843.2" y="128.0">N</tspan><tspan x="1843.2" y="148.8">N</tspan><tspan x="1843.2" y="169.6">N</tspan><tspan x="1843.2" y="190.4">S</tspan><tspan x="1843.2" y="211.2">S</tspan><tspan x="1843.2" y="232.0">S</tspan><tspan x="1843.2" y="252.8">C</tspan><tspan x="1843.2" y="273.6">G</tspan><tspan x="1843.2" y="294.4">C</tspan><tspan x="1843.2" y="315.2">S</tspan><tspan x="1843.2" y="336.0">G</tspan><tspan x="1843.2" y="356.8">V</tspan><tspan x="1843.2" y="377.6">A</tspan><tspan x="1843.2" y="398.4">G</tspan><tspan x="1843.2" y="419.2">G</tspan><tspan x="1843.2" y="440.0">A</tspan></text><text fill="#06319e"><tspan x="1856.7" y="128.0">M</tspan><tspan x="1856.7" y="148.8">M</tspan><tspan x="1856.7" y="169.6">M</tspan><tspan x="1856.7" y="190.4">M</tspan><tspan x="1856.7" y="211.2">M</tspan><tspan x="1856.7" y="232.0">M</tspan><tspan x="1856.7" y="252.8">M</tspan><tspan x="1856.7" y="273.6">M</tspan><tspan x="1856.7" y="294.4">M</tspan><tspan x="1856.7" y="315.2">M</tspan><tspan x="1856.7" y="336.0">M</tspan><tspan x="1856.7" y="356.8">M</tspan><tspan x="1856.7" y="377.6">M</tspan><tspan x="1856.7" y="398.4">M</tspan><tspan x="1856.7" y="419.2">M</tspan><tspan x="1856.7" y="440.0">L</tspan></text><text fill="#00289e"><tspan x="1870.2" y="128.0">Q</tspan><tspan x="1870.2" y="148.8">Q</tspan><tspan x="1870.2" y="169.6">Q</tspan><tspan x="1870.2" y="190.4">Q</tspan><tspan x="1870.2" y="211.2">Q</tspan><tspan x="1870.2" y="232.0">Q</tspan><tspan x="1870.2" y="252.8">Q</tspan><tspan x="1870.2" y="273.6">Q</tspan><tspan x="1870.2" y="294.4">Q</tspan><tspan x="1870.2" y="315.2">Q</tspan><tspan x="1870.2" y="336.0">Q</tspan><tspan x="1870.2" y="356.8">Q</tspan><tspan x="1870.2" y="377.6">Q</tspan><tspan x="1870.2" y="398.4">Q</tspan><tspan x="1870.2" y="419.2">Q</tspan><tspan x="1870.2" y="440.0">Q</tspan></text><text fill="#06319e"><tspan x="1883.7" y="128.0">Y</tspan><tspan x="1883.7" y="148.8">Y</tspan><tspan x="1883.7" y="169.6">Y</tspan><tspan x="1883.7" y="190.4">Y</tspan><tspan x="1883.7" y="211.2">Y</tspan><tspan x="1883.7" y="232.0">Y</tspan><tspan x="1883.7" y="252.8">Y</tspan><tspan x="1883.7" y="273.6">Y</tspan><tspan x="1883.7" y="294.4">Y</tspan><tspan x="1883.7" y="315.2">Y</tspan><tspan x="1883.7" y="336.0">Y</tspan><tspan x="1883.7" y="356.8">Y</tspan><tspan x="1883.7" y="377.6">Y</tspan><tspan x="1883.7" y="398.4">Y</tspan><tspan x="1883.7" y="419.2">Y</tspan><tspan x="1883.7" y="440.0">Y</tspan></text><text fill="#06319e"><tspan x="1897.2" y="128.0">H</tspan><tspan x="1897.2" y="148.8">H</tspan><tspan x="1897.2" y="169.6">H</tspan><tspan x="1897.2" y="190.4">H</tspan><tspan x="1897.2" y="211.2">H</tspan><tspan x="1897.2" y="232.0">H</tspan><tspan x="1897.2" y="252.8">H</tspan><tspan x="1897.2" y="273.6">H</tspan><tspan x="1897.2" y="294.4">H</tspan><tspan x="1897.2" y="315.2">H</tspan><tspan x="1897.2" y="336.0">H</tspan><tspan x="1897.2" y="356.8">H</tspan><tspan x="1897.2" y="377.6">H</tspan><tspan x="1897.2" y="398.4">H</tspan><tspan x="1897.2" y="419.2">H</tspan><tspan x="1897.2" y="440.0">H</tspan></text><text fill="#3c6ea0"><tspan x="1910.7" y="128.0">S</tspan><tspan x="1910.7" y="148.8">S</tspan><tspan x="1910.7" y="169.6">S</tspan><tspan x="1910.7" y="190.4">S</tspan><tspan x="1910.7" y="211.2">S</tspan><tspan x="1910.7" y="232.0">S</tspan><tspan x="1910.7" y="252.8">S</tspan><tspan x="1910.7" y="273.6">G</tspan><tspan x="1910.7" y="294.4">G</tspan><tspan x="1910.7" y="315.2">G</tspan><tspan x="1910.7" y="336.0">N</tspan><tspan x="1910.7" y="356.8">N</tspan><tspan x="1910.7" y="377.6">Q</tspan><tspan x="1910.7" y="398.4">N</tspan><tspan x="1910.7" y="419.2">N</tspan><tspan x="1910.7" y="440.0">D</tspan></text><text fill="#00289e"><tspan x="1924.2" y="128.0">N</tspan><tspan x="1924.2" y="148.8">N</tspan><tspan x="1924.2" y="169.6">N</tspan><tspan x="1924.2" y="190.4">N</tspan><tspan x="1924.2" y="211.2">N</tspan><tspan x="1924.2" y="232.0">N</tspan><tspan x="1924.2" y="252.8">N</tspan><tspan x="1924.2" y="273.6">N</tspan><tspan x="1924.2" y="294.4">N</tspan><tspan x="1924.2" y="315.2">N</tspan><tspan x="1924.2" y="336.0">N</tspan><tspan x="1924.2" y="356.8">N</tspan><tspan x="1924.2" y="377.6">N</tspan><tspan x="1924.2" y="398.4">N</tspan><tspan x="1924.2" y="419.2">N</tspan><tspan x="1924.2" y="440.0">N</tspan></text><text fill="#2a5ca0"><tspan x="1937.7" y="128.0">S</tspan><tspan x="1937.7" y="148.8">S</tspan><tspan x="1937.7" y="169.6">C</tspan><tspan x="1937.7" y="190.4">S</tspan><tspan x="1937.7" y="211.2">S</tspan><tspan x="1937.7" y="232.0">I</tspan><tspan x="1937.7" y="252.8">A</tspan><tspan x="1937.7" y="273.6">I</tspan><tspan x="1937.7" y="294.4">I</tspan><tspan x="1937.7" y="315.2">I</tspan><tspan x="1937.7" y="336.0">I</tspan><tspan x="1937.7" y="356.8">I</tspan><tspan x="1937.7" y="377.6">I</tspan><tspan x="1937.7" y="398.4">I</tspan><tspan x="1937.7" y="419.2">I</tspan><tspan x="1937.7" y="440.0">I</tspan></text><text fill="#5288a0"><tspan x="1951.2" y="128.0">G</tspan><tspan x="1951.2" y="148.8">G</tspan><tspan x="1951.2" y="169.6">G</tspan><tspan x="1951.2" y="190.4">G</tspan><tspan x="1951.2" y="211.2">G</tspan><tspan x="1951.2" y="232.0">G</tspan><tspan x="1951.2" y="252.8">D</tspan><tspan x="1951.2" y="273.6">G</tspan><tspan x="1951.2" y="294.4">G</tspan><tspan x="1951.2" y="315.2">D</tspan><tspan x="1951.2" y="336.0">S</tspan><tspan x="1951.2" y="356.8">N</tspan><tspan x="1951.2" y="377.6">S</tspan><tspan x="1951.2" y="398.4">S</tspan><tspan x="1951.2" y="419.2">S</tspan><tspan x="1951.2" y="440.0">G</tspan></text><text fill="#06319e"><tspan x="1964.7" y="128.0">K</tspan><tspan x="1964.7" y="148.8">K</tspan><tspan x="1964.7" y="169.6">K</tspan><tspan x="1964.7" y="190.4">K</tspan><tspan x="1964.7" y="211.2">K</tspan><tspan x="1964.7" y="232.0">K</tspan><tspan x="1964.7" y="252.8">K</tspan><tspan x="1964.7" y="273.6">K</tspan><tspan x="1964.7" y="294.4">K</tspan><tspan x="1964.7" y="315.2">K</tspan><tspan x="1964.7" y="336.0">K</tspan><tspan x="1964.7" y="356.8">K</tspan><tspan x="1964.7" y="377.6">K</tspan><tspan x="1964.7" y="398.4">K</tspan><tspan x="1964.7" y="419.2">K</tspan><tspan x="1964.7" y="440.0">K</tspan></text><text fill="#1342a0"><tspan x="1978.2" y="128.0">E</tspan><tspan x="1978.2" y="148.8">E</tspan><tspan x="1978.2" y="169.6">E</tspan><tspan x="1978.2" y="190.4">E</tspan><tspan x="1978.2" y="211.2">E</tspan><tspan x="1978.2" y="232.0">E</tspan><tspan x="1978.2" y="252.8">K</tspan><tspan x="1978.2" y="273.6">D</tspan><tspan x="1978.2" y="294.4">E</tspan><tspan x="1978.2" y="315.2">E</tspan><tspan x="1978.2" y="336.0">E</tspan><tspan x="1978.2" y="356.8">E</tspan><tspan x="1978.2" y="377.6">E</tspan><tspan x="1978.2" y="398.4">E</tspan><tspan x="1978.2" y="419.2">E</tspan><tspan x="1978.2" y="440.0">E</tspan></text><text fill="#2254a0"><tspan x="1991.7" y="128.0">E</tspan><tspan x="1991.7" y="148.8">E</tspan><tspan x="1991.7" y="169.6">E</tspan><tspan x="1991.7" y="190.4">E</tspan><tspan x="1991.7" y="211.2">E</tspan><tspan x="1991.7" y="232.0">E</tspan><tspan x="1991.7" y="252.8">L</tspan><tspan x="1991.7" y="273.6">E</tspan><tspan x="1991.7" y="294.4">D</tspan><tspan x="1991.7" y="315.2">D</tspan><tspan x="1991.7" y="336.0">D</tspan><tspan x="1991.7" y="356.8">D</tspan><tspan x="1991.7" y="377.6">D</tspan><tspan x="1991.7" y="398.4">D</tspan><tspan x="1991.7" y="419.2">D</tspan><tspan x="1991.7" y="440.0">D</tspan></text><text fill="#06319e"><tspan x="2005.2" y="128.0">G</tspan><tspan x="2005.2" y="148.8">G</tspan><tspan x="2005.2" y="169.6">G</tspan><tspan x="2005.2" y="190.4">G</tspan><tspan x="2005.2" y="211.2">G</tspan><tspan x="2005.2" y="232.0">G</tspan><tspan x="2005.2" y="252.8">A</tspan><tspan x="2005.2" y="273.6">G</tspan><tspan x="2005.2" y="294.4">G</tspan><tspan x="2005.2" y="315.2">G</tspan><tspan x="2005.2" y="336.0">G</tspan><tspan x="2005.2" y="356.8">G</tspan><tspan x="2005.2" y="377.6">G</tspan><tspan x="2005.2" y="398.4">G</tspan><tspan x="2005.2" y="419.2">G</tspan><tspan x="2005.2" y="440.0">G</tspan></text><text fill="#4477a0"><tspan x="2018.7" y="128.0">F</tspan><tspan x="2018.7" y="148.8">L</tspan><tspan x="2018.7" y="169.6">L</tspan><tspan x="2018.7" y="190.4">L</tspan><tspan x="2018.7" y="211.2">S</tspan><tspan x="2018.7" y="232.0">M</tspan><tspan x="2018.7" y="252.8">M</tspan><tspan x="2018.7" y="273.6">L</tspan><tspan x="2018.7" y="294.4">Q</tspan><tspan x="2018.7" y="315.2">K</tspan><tspan x="2018.7" y="336.0">L</tspan><tspan x="2018.7" y="356.8">L</tspan><tspan x="2018.7" y="377.6">L</tspan><tspan x="2018.7" y="398.4">L</tspan><tspan x="2018.7" y="419.2">L</tspan><tspan x="2018.7" y="440.0">L</tspan></text><text fill="#2254a0"><tspan x="2032.2" y="128.0">E</tspan><tspan x="2032.2" y="148.8">E</tspan><tspan x="2032.2" y="169.6">E</tspan><tspan x="2032.2" y="190.4">E</tspan><tspan x="2032.2" y="211.2">E</tspan><tspan x="2032.2" y="232.0">Q</tspan><tspan x="2032.2" y="252.8">E</tspan><tspan x="2032.2" y="273.6">K</tspan><tspan x="2032.2" y="294.4">K</tspan><tspan x="2032.2" y="315.2">R</tspan><tspan x="2032.2" y="336.0">R</tspan><tspan x="2032.2" y="356.8">R</tspan><tspan x="2032.2" y="377.6">R</tspan><tspan x="2032.2" y="398.4">K</tspan><tspan x="2032.2" y="419.2">K</tspan><tspan x="2032.2" y="440.0">R</tspan></text><text fill="#00289e"><tspan x="2045.6" y="128.0">L</tspan><tspan x="2045.6" y="148.8">L</tspan><tspan x="2045.6" y="169.6">L</tspan><tspan x="2045.6" y="190.4">L</tspan><tspan x="2045.6" y="211.2">L</tspan><tspan x="2045.6" y="232.0">L</tspan><tspan x="2045.6" y="252.8">L</tspan><tspan x="2045.6" y="273.6">L</tspan><tspan x="2045.6" y="294.4">L</tspan><tspan x="2045.6" y="315.2">L</tspan><tspan x="2045.6" y="336.0">L</tspan><tspan x="2045.6" y="356.8">L</tspan><tspan x="2045.6" y="377.6">L</tspan><tspan x="2045.6" y="398.4">L</tspan><tspan x="2045.6" y="419.2">L</tspan><tspan x="2045.6" y="440.0">L</tspan></text><text fill="#06319e"><tspan x="2059.1" y="128.0">Y</tspan><tspan x="2059.1" y="148.8">Y</tspan><tspan x="2059.1" y="169.6">Y</tspan><tspan x="2059.1" y="190.4">Y</tspan><tspan x="2059.1" y="211.2">Y</tspan><tspan x="2059.1" y="232.0">Y</tspan><tspan x="2059.1" y="252.8">Y</tspan><tspan x="2059.1" y="273.6">Y</tspan><tspan x="2059.1" y="294.4">Y</tspan><tspan x="2059.1" y="315.2">Y</tspan><tspan x="2059.1" y="336.0">Y</tspan><tspan x="2059.1" y="356.8">Y</tspan><tspan x="2059.1" y="377.6">Y</tspan><tspan x="2059.1" y="398.4">Y</tspan><tspan x="2059.1" y="419.2">Y</tspan><tspan x="2059.1" y="440.0">Y</tspan></text><text fill="#3365a0"><tspan x="2072.6" y="128.0">S</tspan><tspan x="2072.6" y="148.8">S</tspan><tspan x="2072.6" y="169.6">S</tspan><tspan x="2072.6" y="190.4">S</tspan><tspan x="2072.6" y="211.2">S</tspan><tspan x="2072.6" y="232.0">S</tspan><tspan x="2072.6" y="252.8">S</tspan><tspan x="2072.6" y="273.6">E</tspan><tspan x="2072.6" y="294.4">S</tspan><tspan x="2072.6" y="315.2">E</tspan><tspan x="2072.6" y="336.0">S</tspan><tspan x="2072.6" y="356.8">G</tspan><tspan x="2072.6" y="377.6">S</tspan><tspan x="2072.6" y="398.4">S</tspan><tspan x="2072.6" y="419.2">S</tspan><tspan x="2072.6" y="440.0">A</tspan></text><text fill="#5a91a0"><tspan x="2086.1" y="128.0">Q</tspan><tspan x="2086.1" y="148.8">Q</tspan><tspan x="2086.1" y="169.6">H</tspan><tspan x="2086.1" y="190.4">Q</tspan><tspan x="2086.1" y="211.2">Q</tspan><tspan x="2086.1" y="232.0">H</tspan><tspan x="2086.1" y="252.8">S</tspan><tspan x="2086.1" y="273.6">T</tspan><tspan x="2086.1" y="294.4">S</tspan><tspan x="2086.1" y="315.2">L</tspan><tspan x="2086.1" y="336.0">A</tspan><tspan x="2086.1" y="356.8">S</tspan><tspan x="2086.1" y="377.6">A</tspan><tspan x="2086.1" y="398.4">S</tspan><tspan x="2086.1" y="419.2">S</tspan><tspan x="2086.1" y="440.0">A</tspan></text><text fill="#0c3a9f"><tspan x="2099.6" y="128.0">F</tspan><tspan x="2099.6" y="148.8">F</tspan><tspan x="2099.6" y="169.6">F</tspan><tspan x="2099.6" y="190.4">F</tspan><tspan x="2099.6" y="211.2">F</tspan><tspan x="2099.6" y="232.0">F</tspan><tspan x="2099.6" y="252.8">L</tspan><tspan x="2099.6" y="273.6">F</tspan><tspan x="2099.6" y="294.4">F</tspan><tspan x="2099.6" y="315.2">L</tspan><tspan x="2099.6" y="336.0">F</tspan><tspan x="2099.6" y="356.8">F</tspan><tspan x="2099.6" y="377.6">F</tspan><tspan x="2099.6" y="398.4">F</tspan><tspan x="2099.6" y="419.2">F</tspan><tspan x="2099.6" y="440.0">F</tspan></text><text fill="#1342a0"><tspan x="2113.1" y="128.0">V</tspan><tspan x="2113.1" y="148.8">V</tspan><tspan x="2113.1" y="169.6">V</tspan><tspan x="2113.1" y="190.4">V</tspan><tspan x="2113.1" y="211.2">V</tspan><tspan x="2113.1" y="232.0">V</tspan><tspan x="2113.1" y="252.8">I</tspan><tspan x="2113.1" y="273.6">V</tspan><tspan x="2113.1" y="294.4">V</tspan><tspan x="2113.1" y="315.2">V</tspan><tspan x="2113.1" y="336.0">V</tspan><tspan x="2113.1" y="356.8">V</tspan><tspan x="2113.1" y="377.6">V</tspan><tspan x="2113.1" y="398.4">I</tspan><tspan x="2113.1" y="419.2">I</tspan><tspan x="2113.1" y="440.0">V</tspan></text><text fill="#3c6ea0"><tspan x="2126.6" y="128.0">T</tspan><tspan x="2126.6" y="148.8">T</tspan><tspan x="2126.6" y="169.6">T</tspan><tspan x="2126.6" y="190.4">C</tspan><tspan x="2126.6" y="211.2">S</tspan><tspan x="2126.6" y="232.0">A</tspan><tspan x="2126.6" y="252.8">A</tspan><tspan x="2126.6" y="273.6">S</tspan><tspan x="2126.6" y="294.4">S</tspan><tspan x="2126.6" y="315.2">S</tspan><tspan x="2126.6" y="336.0">A</tspan><tspan x="2126.6" y="356.8">S</tspan><tspan x="2126.6" y="377.6">S</tspan><tspan x="2126.6" y="398.4">S</tspan><tspan x="2126.6" y="419.2">S</tspan><tspan x="2126.6" y="440.0">S</tspan></text><text fill="#5288a0"><tspan x="2140.1" y="128.0">L</tspan><tspan x="2140.1" y="148.8">L</tspan><tspan x="2140.1" y="169.6">L</tspan><tspan x="2140.1" y="190.4">L</tspan><tspan x="2140.1" y="211.2">L</tspan><tspan x="2140.1" y="232.0">Y</tspan><tspan x="2140.1" y="252.8">Q</tspan><tspan x="2140.1" y="273.6">L</tspan><tspan x="2140.1" y="294.4">Q</tspan><tspan x="2140.1" y="315.2">R</tspan><tspan x="2140.1" y="336.0">L</tspan><tspan x="2140.1" y="356.8">L</tspan><tspan x="2140.1" y="377.6">M</tspan><tspan x="2140.1" y="398.4">L</tspan><tspan x="2140.1" y="419.2">L</tspan><tspan x="2140.1" y="440.0">L</tspan></text><text fill="#06319e"><tspan x="2153.6" y="128.0">C</tspan><tspan x="2153.6" y="148.8">C</tspan><tspan x="2153.6" y="169.6">C</tspan><tspan x="2153.6" y="190.4">C</tspan><tspan x="2153.6" y="211.2">C</tspan><tspan x="2153.6" y="232.0">C</tspan><tspan x="2153.6" y="252.8">C</tspan><tspan x="2153.6" y="273.6">C</tspan><tspan x="2153.6" y="294.4">C</tspan><tspan x="2153.6" y="315.2">C</tspan><tspan x="2153.6" y="336.0">C</tspan><tspan x="2153.6" y="356.8">C</tspan><tspan x="2153.6" y="377.6">C</tspan><tspan x="2153.6" y="398.4">C</tspan><tspan x="2153.6" y="419.2">C</tspan><tspan x="2153.6" y="440.0">C</tspan></text><text fill="#194ba0"><tspan x="2167.1" y="128.0">E</tspan><tspan x="2167.1" y="148.8">E</tspan><tspan x="2167.1" y="169.6">E</tspan><tspan x="2167.1" y="190.4">E</tspan><tspan x="2167.1" y="211.2">E</tspan><tspan x="2167.1" y="232.0">E</tspan><tspan x="2167.1" y="252.8">K</tspan><tspan x="2167.1" y="273.6">Q</tspan><tspan x="2167.1" y="294.4">E</tspan><tspan x="2167.1" y="315.2">E</tspan><tspan x="2167.1" y="336.0">E</tspan><tspan x="2167.1" y="356.8">E</tspan><tspan x="2167.1" y="377.6">A</tspan><tspan x="2167.1" y="398.4">E</tspan><tspan x="2167.1" y="419.2">E</tspan><tspan x="2167.1" y="440.0">E</tspan></text><text fill="#3365a0"><tspan x="2180.6" y="128.0">K</tspan><tspan x="2180.6" y="148.8">K</tspan><tspan x="2180.6" y="169.6">K</tspan><tspan x="2180.6" y="190.4">K</tspan><tspan x="2180.6" y="211.2">K</tspan><tspan x="2180.6" y="232.0">K</tspan><tspan x="2180.6" y="252.8">E</tspan><tspan x="2180.6" y="273.6">S</tspan><tspan x="2180.6" y="294.4">Q</tspan><tspan x="2180.6" y="315.2">Q</tspan><tspan x="2180.6" y="336.0">K</tspan><tspan x="2180.6" y="356.8">K</tspan><tspan x="2180.6" y="377.6">K</tspan><tspan x="2180.6" y="398.4">K</tspan><tspan x="2180.6" y="419.2">K</tspan><tspan x="2180.6" y="440.0">E</tspan></text><text fill="#2254a0"><tspan x="2194.1" y="128.0">E</tspan><tspan x="2194.1" y="148.8">E</tspan><tspan x="2194.1" y="169.6">E</tspan><tspan x="2194.1" y="190.4">A</tspan><tspan x="2194.1" y="211.2">A</tspan><tspan x="2194.1" y="232.0">E</tspan><tspan x="2194.1" y="252.8">E</tspan><tspan x="2194.1" y="273.6">E</tspan><tspan x="2194.1" y="294.4">E</tspan><tspan x="2194.1" y="315.2">Q</tspan><tspan x="2194.1" y="336.0">E</tspan><tspan x="2194.1" y="356.8">E</tspan><tspan x="2194.1" y="377.6">E</tspan><tspan x="2194.1" y="398.4">E</tspan><tspan x="2194.1" y="419.2">E</tspan><tspan x="2194.1" y="440.0">R</tspan></text><text fill="#2254a0"><tspan x="2207.6" y="128.0">V</tspan><tspan x="2207.6" y="148.8">L</tspan><tspan x="2207.6" y="169.6">L</tspan><tspan x="2207.6" y="190.4">V</tspan><tspan x="2207.6" y="211.2">V</tspan><tspan x="2207.6" y="232.0">L</tspan><tspan x="2207.6" y="252.8">L</tspan><tspan x="2207.6" y="273.6">L</tspan><tspan x="2207.6" y="294.4">L</tspan><tspan x="2207.6" y="315.2">L</tspan><tspan x="2207.6" y="336.0">L</tspan><tspan x="2207.6" y="356.8">V</tspan><tspan x="2207.6" y="377.6">L</tspan><tspan x="2207.6" y="398.4">L</tspan><tspan x="2207.6" y="419.2">L</tspan><tspan x="2207.6" y="440.0">L</tspan></text><text fill="#6098a0"><tspan x="2221.1" y="128.0">A</tspan><tspan x="2221.1" y="148.8">A</tspan><tspan x="2221.1" y="169.6">A</tspan><tspan x="2221.1" y="190.4">T</tspan><tspan x="2221.1" y="211.2">A</tspan><tspan x="2221.1" y="232.0">T</tspan><tspan x="2221.1" y="252.8">Q</tspan><tspan x="2221.1" y="273.6">S</tspan><tspan x="2221.1" y="294.4">S</tspan><tspan x="2221.1" y="315.2">S</tspan><tspan x="2221.1" y="336.0">N</tspan><tspan x="2221.1" y="356.8">A</tspan><tspan x="2221.1" y="377.6">A</tspan><tspan x="2221.1" y="398.4">M</tspan><tspan x="2221.1" y="419.2">M</tspan><tspan x="2221.1" y="440.0">A</tspan></text><text fill="#6098a0"><tspan x="2234.6" y="128.0">A</tspan><tspan x="2234.6" y="148.8">A</tspan><tspan x="2234.6" y="169.6">A</tspan><tspan x="2234.6" y="190.4">N</tspan><tspan x="2234.6" y="211.2">N</tspan><tspan x="2234.6" y="232.0">S</tspan><tspan x="2234.6" y="252.8">A</tspan><tspan x="2234.6" y="273.6">-</tspan><tspan x="2234.6" y="294.4">L</tspan><tspan x="2234.6" y="315.2">S</tspan><tspan x="2234.6" y="336.0">A</tspan><tspan x="2234.6" y="356.8">P</tspan><tspan x="2234.6" y="377.6">A</tspan><tspan x="2234.6" y="398.4">A</tspan><tspan x="2234.6" y="419.2">T</tspan><tspan x="2234.6" y="440.0">A</tspan></text><text fill="#3c6ea0"><tspan x="2248.1" y="128.0">N</tspan><tspan x="2248.1" y="148.8">N</tspan><tspan x="2248.1" y="169.6">N</tspan><tspan x="2248.1" y="190.4">N</tspan><tspan x="2248.1" y="211.2">N</tspan><tspan x="2248.1" y="232.0">N</tspan><tspan x="2248.1" y="252.8">H</tspan><tspan x="2248.1" y="273.6">S</tspan><tspan x="2248.1" y="294.4">A</tspan><tspan x="2248.1" y="315.2">S</tspan><tspan x="2248.1" y="336.0">A</tspan><tspan x="2248.1" y="356.8">A</tspan><tspan x="2248.1" y="377.6">A</tspan><tspan x="2248.1" y="398.4">A</tspan><tspan x="2248.1" y="419.2">A</tspan><tspan x="2248.1" y="440.0">A</tspan></text><text fill="#7ab4a0"><tspan x="2261.6" y="128.0">S</tspan><tspan x="2261.6" y="148.8">S</tspan><tspan x="2261.6" y="169.6">I</tspan><tspan x="2261.6" y="190.4">S</tspan><tspan x="2261.6" y="211.2">T</tspan><tspan x="2261.6" y="232.0">T</tspan><tspan x="2261.6" y="252.8">S</tspan><tspan x="2261.6" y="273.6">C</tspan><tspan x="2261.6" y="294.4">V</tspan><tspan x="2261.6" y="315.2">G</tspan><tspan x="2261.6" y="336.0">V</tspan><tspan x="2261.6" y="356.8">A</tspan><tspan x="2261.6" y="377.6">A</tspan><tspan x="2261.6" y="398.4">A</tspan><tspan x="2261.6" y="419.2">A</tspan><tspan x="2261.6" y="440.0">S</tspan></text><text fill="#4477a0"><tspan x="2275.1" y="128.0">K</tspan><tspan x="2275.1" y="148.8">K</tspan><tspan x="2275.1" y="169.6">K</tspan><tspan x="2275.1" y="190.4">K</tspan><tspan x="2275.1" y="211.2">K</tspan><tspan x="2275.1" y="232.0">K</tspan><tspan x="2275.1" y="252.8">K</tspan><tspan x="2275.1" y="273.6">K</tspan><tspan x="2275.1" y="294.4">K</tspan><tspan x="2275.1" y="315.2">A</tspan><tspan x="2275.1" y="336.0">A</tspan><tspan x="2275.1" y="356.8">A</tspan><tspan x="2275.1" y="377.6">A</tspan><tspan x="2275.1" y="398.4">G</tspan><tspan x="2275.1" y="419.2">G</tspan><tspan x="2275.1" y="440.0">-</tspan></text><text fill="#6098a0"><tspan x="2288.6" y="128.0">C</tspan><tspan x="2288.6" y="148.8">C</tspan><tspan x="2288.6" y="169.6">C</tspan><tspan x="2288.6" y="190.4">C</tspan><tspan x="2288.6" y="211.2">S</tspan><tspan x="2288.6" y="232.0">C</tspan><tspan x="2288.6" y="252.8">W</tspan><tspan x="2288.6" y="273.6">N</tspan><tspan x="2288.6" y="294.4">C</tspan><tspan x="2288.6" y="315.2">C</tspan><tspan x="2288.6" y="336.0">E</tspan><tspan x="2288.6" y="356.8">E</tspan><tspan x="2288.6" y="377.6">S</tspan><tspan x="2288.6" y="398.4">E</tspan><tspan x="2288.6" y="419.2">E</tspan><tspan x="2288.6" y="440.0">-</tspan></text><text fill="#6098a0"><tspan x="2302.1" y="128.0">A</tspan><tspan x="2302.1" y="148.8">A</tspan><tspan x="2302.1" y="169.6">A</tspan><tspan x="2302.1" y="190.4">V</tspan><tspan x="2302.1" y="211.2">V</tspan><tspan x="2302.1" y="232.0">S</tspan><tspan x="2302.1" y="252.8">A</tspan><tspan x="2302.1" y="273.6">S</tspan><tspan x="2302.1" y="294.4">S</tspan><tspan x="2302.1" y="315.2">V</tspan><tspan x="2302.1" y="336.0">S</tspan><tspan x="2302.1" y="356.8">-</tspan><tspan x="2302.1" y="377.6">-</tspan><tspan x="2302.1" y="398.4">T</tspan><tspan x="2302.1" y="419.2">T</tspan><tspan x="2302.1" y="440.0">-</tspan></text><text fill="#2a5ca0"><tspan x="2315.6" y="128.0">E</tspan><tspan x="2315.6" y="148.8">E</tspan><tspan x="2315.6" y="169.6">E</tspan><tspan x="2315.6" y="190.4">E</tspan><tspan x="2315.6" y="211.2">E</tspan><tspan x="2315.6" y="232.0">E</tspan><tspan x="2315.6" y="252.8">E</tspan><tspan x="2315.6" y="273.6">D</tspan><tspan x="2315.6" y="294.4">E</tspan><tspan x="2315.6" y="315.2">E</tspan><tspan x="2315.6" y="336.0">-</tspan><tspan x="2315.6" y="356.8">-</tspan><tspan x="2315.6" y="377.6">-</tspan><tspan x="2315.6" y="398.4">E</tspan><tspan x="2315.6" y="419.2">E</tspan><tspan x="2315.6" y="440.0">-</tspan></text><text fill="#2a5ca0"><tspan x="2329.1" y="128.0">A</tspan><tspan x="2329.1" y="148.8">A</tspan><tspan x="2329.1" y="169.6">A</tspan><tspan x="2329.1" y="190.4">A</tspan><tspan x="2329.1" y="211.2">A</tspan><tspan x="2329.1" y="232.0">A</tspan><tspan x="2329.1" y="252.8">S</tspan><tspan x="2329.1" y="273.6">I</tspan><tspan x="2329.1" y="294.4">A</tspan><tspan x="2329.1" y="315.2">A</tspan><tspan x="2329.1" y="336.0">A</tspan><tspan x="2329.1" y="356.8">A</tspan><tspan x="2329.1" y="377.6">A</tspan><tspan x="2329.1" y="398.4">A</tspan><tspan x="2329.1" y="419.2">A</tspan><tspan x="2329.1" y="440.0">-</tspan></text><text fill="#5a91a0"><tspan x="2342.6" y="128.0">R</tspan><tspan x="2342.6" y="148.8">G</tspan><tspan x="2342.6" y="169.6">G</tspan><tspan x="2342.6" y="190.4">G</tspan><tspan x="2342.6" y="211.2">G</tspan><tspan x="2342.6" y="232.0">G</tspan><tspan x="2342.6" y="252.8">G</tspan><tspan x="2342.6" y="273.6">L</tspan><tspan x="2342.6" y="294.4">G</tspan><tspan x="2342.6" y="315.2">G</tspan><tspan x="2342.6" y="336.0">E</tspan><tspan x="2342.6" y="356.8">G</tspan><tspan x="2342.6" y="377.6">D</tspan><tspan x="2342.6" y="398.4">E</tspan><tspan x="2342.6" y="419.2">E</tspan><tspan x="2342.6" y="440.0">-</tspan></text><text fill="#3c6ea0"><tspan x="2356.1" y="128.0">V</tspan><tspan x="2356.1" y="148.8">V</tspan><tspan x="2356.1" y="169.6">V</tspan><tspan x="2356.1" y="190.4">V</tspan><tspan x="2356.1" y="211.2">V</tspan><tspan x="2356.1" y="232.0">V</tspan><tspan x="2356.1" y="252.8">A</tspan><tspan x="2356.1" y="273.6">T</tspan><tspan x="2356.1" y="294.4">T</tspan><tspan x="2356.1" y="315.2">V</tspan><tspan x="2356.1" y="336.0">V</tspan><tspan x="2356.1" y="356.8">V</tspan><tspan x="2356.1" y="377.6">V</tspan><tspan x="2356.1" y="398.4">V</tspan><tspan x="2356.1" y="419.2">V</tspan><tspan x="2356.1" y="440.0">-</tspan></text><text fill="#5a91a0"><tspan x="2369.6" y="128.0">V</tspan><tspan x="2369.6" y="148.8">V</tspan><tspan x="2369.6" y="169.6">V</tspan><tspan x="2369.6" y="190.4">A</tspan><tspan x="2369.6" y="211.2">A</tspan><tspan x="2369.6" y="232.0">V</tspan><tspan x="2369.6" y="252.8">V</tspan><tspan x="2369.6" y="273.6">E</tspan><tspan x="2369.6" y="294.4">E</tspan><tspan x="2369.6" y="315.2">A</tspan><tspan x="2369.6" y="336.0">T</tspan><tspan x="2369.6" y="356.8">K</tspan><tspan x="2369.6" y="377.6">T</tspan><tspan x="2369.6" y="398.4">T</tspan><tspan x="2369.6" y="419.2">T</tspan><tspan x="2369.6" y="440.0">-</tspan></text><text fill="#194ba0"><tspan x="2383.1" y="128.0">V</tspan><tspan x="2383.1" y="148.8">V</tspan><tspan x="2383.1" y="169.6">V</tspan><tspan x="2383.1" y="190.4">V</tspan><tspan x="2383.1" y="211.2">V</tspan><tspan x="2383.1" y="232.0">I</tspan><tspan x="2383.1" y="252.8">L</tspan><tspan x="2383.1" y="273.6">V</tspan><tspan x="2383.1" y="294.4">V</tspan><tspan x="2383.1" y="315.2">V</tspan><tspan x="2383.1" y="336.0">V</tspan><tspan x="2383.1" y="356.8">V</tspan><tspan x="2383.1" y="377.6">V</tspan><tspan x="2383.1" y="398.4">V</tspan><tspan x="2383.1" y="419.2">V</tspan><tspan x="2383.1" y="440.0">V</tspan></text><text fill="#4b80a0"><tspan x="2396.6" y="128.0">E</tspan><tspan x="2396.6" y="148.8">E</tspan><tspan x="2396.6" y="169.6">K</tspan><tspan x="2396.6" y="190.4">A</tspan><tspan x="2396.6" y="211.2">A</tspan><tspan x="2396.6" y="232.0">K</tspan><tspan x="2396.6" y="252.8">K</tspan><tspan x="2396.6" y="273.6">K</tspan><tspan x="2396.6" y="294.4">K</tspan><tspan x="2396.6" y="315.2">Q</tspan><tspan x="2396.6" y="336.0">K</tspan><tspan x="2396.6" y="356.8">K</tspan><tspan x="2396.6" y="377.6">K</tspan><tspan x="2396.6" y="398.4">R</tspan><tspan x="2396.6" y="419.2">R</tspan><tspan x="2396.6" y="440.0">K</tspan></text><text fill="#00289e"><tspan x="2410.1" y="128.0">H</tspan><tspan x="2410.1" y="148.8">H</tspan><tspan x="2410.1" y="169.6">H</tspan><tspan x="2410.1" y="190.4">H</tspan><tspan x="2410.1" y="211.2">H</tspan><tspan x="2410.1" y="232.0">H</tspan><tspan x="2410.1" y="252.8">H</tspan><tspan x="2410.1" y="273.6">H</tspan><tspan x="2410.1" y="294.4">H</tspan><tspan x="2410.1" y="315.2">H</tspan><tspan x="2410.1" y="336.0">H</tspan><tspan x="2410.1" y="356.8">H</tspan><tspan x="2410.1" y="377.6">H</tspan><tspan x="2410.1" y="398.4">H</tspan><tspan x="2410.1" y="419.2">H</tspan><tspan x="2410.1" y="440.0">H</tspan></text><text fill="#00289e"><tspan x="2423.6" y="128.0">G</tspan><tspan x="2423.6" y="148.8">G</tspan><tspan x="2423.6" y="169.6">G</tspan><tspan x="2423.6" y="190.4">G</tspan><tspan x="2423.6" y="211.2">G</tspan><tspan x="2423.6" y="232.0">G</tspan><tspan x="2423.6" y="252.8">G</tspan><tspan x="2423.6" y="273.6">G</tspan><tspan x="2423.6" y="294.4">G</tspan><tspan x="2423.6" y="315.2">G</tspan><tspan x="2423.6" y="336.0">G</tspan><tspan x="2423.6" y="356.8">G</tspan><tspan x="2423.6" y="377.6">G</tspan><tspan x="2423.6" y="398.4">G</tspan><tspan x="2423.6" y="419.2">G</tspan><tspan x="2423.6" y="440.0">G</tspan></text><text fill="#06319e"><tspan x="2437.1" y="128.0">T</tspan><tspan x="2437.1" y="148.8">T</tspan><tspan x="2437.1" y="169.6">T</tspan><tspan x="2437.1" y="190.4">T</tspan><tspan x="2437.1" y="211.2">T</tspan><tspan x="2437.1" y="232.0">T</tspan><tspan x="2437.1" y="252.8">T</tspan><tspan x="2437.1" y="273.6">T</tspan><tspan x="2437.1" y="294.4">T</tspan><tspan x="2437.1" y="315.2">T</tspan><tspan x="2437.1" y="336.0">T</tspan><tspan x="2437.1" y="356.8">T</tspan><tspan x="2437.1" y="377.6">T</tspan><tspan x="2437.1" y="398.4">T</tspan><tspan x="2437.1" y="419.2">T</tspan><tspan x="2437.1" y="440.0">T</tspan></text><text fill="#06319e"><tspan x="2450.6" y="128.0">Y</tspan><tspan x="2450.6" y="148.8">Y</tspan><tspan x="2450.6" y="169.6">Y</tspan><tspan x="2450.6" y="190.4">Y</tspan><tspan x="2450.6" y="211.2">Y</tspan><tspan x="2450.6" y="232.0">Y</tspan><tspan x="2450.6" y="252.8">Y</tspan><tspan x="2450.6" y="273.6">Y</tspan><tspan x="2450.6" y="294.4">Y</tspan><tspan x="2450.6" y="315.2">Y</tspan><tspan x="2450.6" y="336.0">Y</tspan><tspan x="2450.6" y="356.8">Y</tspan><tspan x="2450.6" y="377.6">Y</tspan><tspan x="2450.6" y="398.4">Y</tspan><tspan x="2450.6" y="419.2">Y</tspan><tspan x="2450.6" y="440.0">Y</tspan></text><text fill="#00289e"><tspan x="2464.1" y="128.0">G</tspan><tspan x="2464.1" y="148.8">G</tspan><tspan x="2464.1" y="169.6">G</tspan><tspan x="2464.1" y="190.4">G</tspan><tspan x="2464.1" y="211.2">G</tspan><tspan x="2464.1" y="232.0">G</tspan><tspan x="2464.1" y="252.8">G</tspan><tspan x="2464.1" y="273.6">G</tspan><tspan x="2464.1" y="294.4">G</tspan><tspan x="2464.1" y="315.2">G</tspan><tspan x="2464.1" y="336.0">G</tspan><tspan x="2464.1" y="356.8">G</tspan><tspan x="2464.1" y="377.6">G</tspan><tspan x="2464.1" y="398.4">G</tspan><tspan x="2464.1" y="419.2">G</tspan><tspan x="2464.1" y="440.0">G</tspan></text><text fill="#1342a0"><tspan x="2477.6" y="128.0">N</tspan><tspan x="2477.6" y="148.8">N</tspan><tspan x="2477.6" y="169.6">N</tspan><tspan x="2477.6" y="190.4">N</tspan><tspan x="2477.6" y="211.2">N</tspan><tspan x="2477.6" y="232.0">N</tspan><tspan x="2477.6" y="252.8">N</tspan><tspan x="2477.6" y="273.6">N</tspan><tspan x="2477.6" y="294.4">N</tspan><tspan x="2477.6" y="315.2">N</tspan><tspan x="2477.6" y="336.0">N</tspan><tspan x="2477.6" y="356.8">N</tspan><tspan x="2477.6" y="377.6">N</tspan><tspan x="2477.6" y="398.4">Q</tspan><tspan x="2477.6" y="419.2">Q</tspan><tspan x="2477.6" y="440.0">N</tspan></text><text fill="#1342a0"><tspan x="2491.1" y="128.0">R</tspan><tspan x="2491.1" y="148.8">R</tspan><tspan x="2491.1" y="169.6">R</tspan><tspan x="2491.1" y="190.4">R</tspan><tspan x="2491.1" y="211.2">R</tspan><tspan x="2491.1" y="232.0">R</tspan><tspan x="2491.1" y="252.8">R</tspan><tspan x="2491.1" y="273.6">R</tspan><tspan x="2491.1" y="294.4">R</tspan><tspan x="2491.1" y="315.2">R</tspan><tspan x="2491.1" y="336.0">R</tspan><tspan x="2491.1" y="356.8">R</tspan><tspan x="2491.1" y="377.6">R</tspan><tspan x="2491.1" y="398.4">R</tspan><tspan x="2491.1" y="419.2">R</tspan><tspan x="2491.1" y="440.0">R</tspan></text><text fill="#06319e"><tspan x="2504.5" y="128.0">Q</tspan><tspan x="2504.5" y="148.8">Q</tspan><tspan x="2504.5" y="169.6">Q</tspan><tspan x="2504.5" y="190.4">Q</tspan><tspan x="2504.5" y="211.2">Q</tspan><tspan x="2504.5" y="232.0">Q</tspan><tspan x="2504.5" y="252.8">Q</tspan><tspan x="2504.5" y="273.6">Q</tspan><tspan x="2504.5" y="294.4">Q</tspan><tspan x="2504.5" y="315.2">Q</tspan><tspan x="2504.5" y="336.0">Q</tspan><tspan x="2504.5" y="356.8">Q</tspan><tspan x="2504.5" y="377.6">Q</tspan><tspan x="2504.5" y="398.4">Q</tspan><tspan x="2504.5" y="419.2">Q</tspan><tspan x="2504.5" y="440.0">Q</tspan></text><text fill="#06319e"><tspan x="2518.0" y="128.0">V</tspan><tspan x="2518.0" y="148.8">V</tspan><tspan x="2518.0" y="169.6">V</tspan><tspan x="2518.0" y="190.4">V</tspan><tspan x="2518.0" y="211.2">V</tspan><tspan x="2518.0" y="232.0">V</tspan><tspan x="2518.0" y="252.8">V</tspan><tspan x="2518.0" y="273.6">V</tspan><tspan x="2518.0" y="294.4">V</tspan><tspan x="2518.0" y="315.2">V</tspan><tspan x="2518.0" y="336.0">V</tspan><tspan x="2518.0" y="356.8">V</tspan><tspan x="2518.0" y="377.6">V</tspan><tspan x="2518.0" y="398.4">V</tspan><tspan x="2518.0" y="419.2">V</tspan><tspan x="2518.0" y="440.0">V</tspan></text><text fill="#06319e"><tspan x="2531.5" y="128.0">L</tspan><tspan x="2531.5" y="148.8">L</tspan><tspan x="2531.5" y="169.6">L</tspan><tspan x="2531.5" y="190.4">L</tspan><tspan x="2531.5" y="211.2">L</tspan><tspan x="2531.5" y="232.0">L</tspan><tspan x="2531.5" y="252.8">L</tspan><tspan x="2531.5" y="273.6">L</tspan><tspan x="2531.5" y="294.4">L</tspan><tspan x="2531.5" y="315.2">L</tspan><tspan x="2531.5" y="336.0">L</tspan><tspan x="2531.5" y="356.8">L</tspan><tspan x="2531.5" y="377.6">L</tspan><tspan x="2531.5" y="398.4">L</tspan><tspan x="2531.5" y="419.2">L</tspan><tspan x="2531.5" y="440.0">L</tspan></text><text fill="#5288a0"><tspan x="2545.0" y="128.0">K</tspan><tspan x="2545.0" y="148.8">Q</tspan><tspan x="2545.0" y="169.6">K</tspan><tspan x="2545.0" y="190.4">K</tspan><tspan x="2545.0" y="211.2">K</tspan><tspan x="2545.0" y="232.0">K</tspan><tspan x="2545.0" y="252.8">N</tspan><tspan x="2545.0" y="273.6">K</tspan><tspan x="2545.0" y="294.4">K</tspan><tspan x="2545.0" y="315.2">K</tspan><tspan x="2545.0" y="336.0">K</tspan><tspan x="2545.0" y="356.8">S</tspan><tspan x="2545.0" y="377.6">M</tspan><tspan x="2545.0" y="398.4">Q</tspan><tspan x="2545.0" y="419.2">Q</tspan><tspan x="2545.0" y="440.0">K</tspan></text><text fill="#06319e"><tspan x="2558.5" y="128.0">L</tspan><tspan x="2558.5" y="148.8">L</tspan><tspan x="2558.5" y="169.6">L</tspan><tspan x="2558.5" y="190.4">L</tspan><tspan x="2558.5" y="211.2">L</tspan><tspan x="2558.5" y="232.0">L</tspan><tspan x="2558.5" y="252.8">L</tspan><tspan x="2558.5" y="273.6">L</tspan><tspan x="2558.5" y="294.4">L</tspan><tspan x="2558.5" y="315.2">L</tspan><tspan x="2558.5" y="336.0">I</tspan><tspan x="2558.5" y="356.8">L</tspan><tspan x="2558.5" y="377.6">L</tspan><tspan x="2558.5" y="398.4">L</tspan><tspan x="2558.5" y="419.2">L</tspan><tspan x="2558.5" y="440.0">L</tspan></text><text fill="#06319e"><tspan x="2572.0" y="128.0">D</tspan><tspan x="2572.0" y="148.8">D</tspan><tspan x="2572.0" y="169.6">D</tspan><tspan x="2572.0" y="190.4">D</tspan><tspan x="2572.0" y="211.2">D</tspan><tspan x="2572.0" y="232.0">D</tspan><tspan x="2572.0" y="252.8">D</tspan><tspan x="2572.0" y="273.6">D</tspan><tspan x="2572.0" y="294.4">D</tspan><tspan x="2572.0" y="315.2">D</tspan><tspan x="2572.0" y="336.0">D</tspan><tspan x="2572.0" y="356.8">D</tspan><tspan x="2572.0" y="377.6">D</tspan><tspan x="2572.0" y="398.4">D</tspan><tspan x="2572.0" y="419.2">D</tspan><tspan x="2572.0" y="440.0">D</tspan></text><text fill="#06319e"><tspan x="2585.5" y="128.0">T</tspan><tspan x="2585.5" y="148.8">T</tspan><tspan x="2585.5" y="169.6">T</tspan><tspan x="2585.5" y="190.4">T</tspan><tspan x="2585.5" y="211.2">T</tspan><tspan x="2585.5" y="232.0">T</tspan><tspan x="2585.5" y="252.8">T</tspan><tspan x="2585.5" y="273.6">T</tspan><tspan x="2585.5" y="294.4">T</tspan><tspan x="2585.5" y="315.2">T</tspan><tspan x="2585.5" y="336.0">T</tspan><tspan x="2585.5" y="356.8">T</tspan><tspan x="2585.5" y="377.6">T</tspan><tspan x="2585.5" y="398.4">T</tspan><tspan x="2585.5" y="419.2">T</tspan><tspan x="2585.5" y="440.0">T</tspan></text><text fill="#06319e"><tspan x="2599.0" y="128.0">N</tspan><tspan x="2599.0" y="148.8">N</tspan><tspan x="2599.0" y="169.6">N</tspan><tspan x="2599.0" y="190.4">N</tspan><tspan x="2599.0" y="211.2">N</tspan><tspan x="2599.0" y="232.0">N</tspan><tspan x="2599.0" y="252.8">N</tspan><tspan x="2599.0" y="273.6">N</tspan><tspan x="2599.0" y="294.4">N</tspan><tspan x="2599.0" y="315.2">N</tspan><tspan x="2599.0" y="336.0">N</tspan><tspan x="2599.0" y="356.8">N</tspan><tspan x="2599.0" y="377.6">N</tspan><tspan x="2599.0" y="398.4">N</tspan><tspan x="2599.0" y="419.2">N</tspan><tspan x="2599.0" y="440.0">N</tspan></text><text fill="#06319e"><tspan x="2612.5" y="128.0">G</tspan><tspan x="2612.5" y="148.8">G</tspan><tspan x="2612.5" y="169.6">G</tspan><tspan x="2612.5" y="190.4">G</tspan><tspan x="2612.5" y="211.2">G</tspan><tspan x="2612.5" y="232.0">G</tspan><tspan x="2612.5" y="252.8">G</tspan><tspan x="2612.5" y="273.6">G</tspan><tspan x="2612.5" y="294.4">G</tspan><tspan x="2612.5" y="315.2">G</tspan><tspan x="2612.5" y="336.0">G</tspan><tspan x="2612.5" y="356.8">G</tspan><tspan x="2612.5" y="377.6">G</tspan><tspan x="2612.5" y="398.4">G</tspan><tspan x="2612.5" y="419.2">G</tspan><tspan x="2612.5" y="440.0">G</tspan></text><text fill="#06319e"><tspan x="2626.0" y="128.0">P</tspan><tspan x="2626.0" y="148.8">P</tspan><tspan x="2626.0" y="169.6">P</tspan><tspan x="2626.0" y="190.4">P</tspan><tspan x="2626.0" y="211.2">P</tspan><tspan x="2626.0" y="232.0">P</tspan><tspan x="2626.0" y="252.8">P</tspan><tspan x="2626.0" y="273.6">P</tspan><tspan x="2626.0" y="294.4">P</tspan><tspan x="2626.0" y="315.2">P</tspan><tspan x="2626.0" y="336.0">P</tspan><tspan x="2626.0" y="356.8">P</tspan><tspan x="2626.0" y="377.6">P</tspan><tspan x="2626.0" y="398.4">P</tspan><tspan x="2626.0" y="419.2">P</tspan><tspan x="2626.0" y="440.0">P</tspan></text><text fill="#194ba0"><tspan x="2639.5" y="128.0">F</tspan><tspan x="2639.5" y="148.8">Y</tspan><tspan x="2639.5" y="169.6">Y</tspan><tspan x="2639.5" y="190.4">Y</tspan><tspan x="2639.5" y="211.2">Y</tspan><tspan x="2639.5" y="232.0">Y</tspan><tspan x="2639.5" y="252.8">Y</tspan><tspan x="2639.5" y="273.6">Y</tspan><tspan x="2639.5" y="294.4">Y</tspan><tspan x="2639.5" y="315.2">F</tspan><tspan x="2639.5" y="336.0">Y</tspan><tspan x="2639.5" y="356.8">Y</tspan><tspan x="2639.5" y="377.6">Y</tspan><tspan x="2639.5" y="398.4">Y</tspan><tspan x="2639.5" y="419.2">Y</tspan><tspan x="2639.5" y="440.0">Y</tspan></text><text fill="#06319e"><tspan x="2653.0" y="128.0">T</tspan><tspan x="2653.0" y="148.8">T</tspan><tspan x="2653.0" y="169.6">T</tspan><tspan x="2653.0" y="190.4">T</tspan><tspan x="2653.0" y="211.2">T</tspan><tspan x="2653.0" y="232.0">T</tspan><tspan x="2653.0" y="252.8">T</tspan><tspan x="2653.0" y="273.6">T</tspan><tspan x="2653.0" y="294.4">T</tspan><tspan x="2653.0" y="315.2">T</tspan><tspan x="2653.0" y="336.0">T</tspan><tspan x="2653.0" y="356.8">T</tspan><tspan x="2653.0" y="377.6">T</tspan><tspan x="2653.0" y="398.4">T</tspan><tspan x="2653.0" y="419.2">T</tspan><tspan x="2653.0" y="440.0">T</tspan></text><text fill="#06319e"><tspan x="2666.5" y="128.0">H</tspan><tspan x="2666.5" y="148.8">H</tspan><tspan x="2666.5" y="169.6">H</tspan><tspan x="2666.5" y="190.4">H</tspan><tspan x="2666.5" y="211.2">H</tspan><tspan x="2666.5" y="232.0">H</tspan><tspan x="2666.5" y="252.8">H</tspan><tspan x="2666.5" y="273.6">H</tspan><tspan x="2666.5" y="294.4">H</tspan><tspan x="2666.5" y="315.2">H</tspan><tspan x="2666.5" y="336.0">H</tspan><tspan x="2666.5" y="356.8">H</tspan><tspan x="2666.5" y="377.6">H</tspan><tspan x="2666.5" y="398.4">H</tspan><tspan x="2666.5" y="419.2">H</tspan><tspan x="2666.5" y="440.0">H</tspan></text><text fill="#06319e"><tspan x="2680.0" y="128.0">L</tspan><tspan x="2680.0" y="148.8">L</tspan><tspan x="2680.0" y="169.6">L</tspan><tspan x="2680.0" y="190.4">L</tspan><tspan x="2680.0" y="211.2">L</tspan><tspan x="2680.0" y="232.0">L</tspan><tspan x="2680.0" y="252.8">L</tspan><tspan x="2680.0" y="273.6">L</tspan><tspan x="2680.0" y="294.4">L</tspan><tspan x="2680.0" y="315.2">L</tspan><tspan x="2680.0" y="336.0">L</tspan><tspan x="2680.0" y="356.8">L</tspan><tspan x="2680.0" y="377.6">L</tspan><tspan x="2680.0" y="398.4">L</tspan><tspan x="2680.0" y="419.2">L</tspan><tspan x="2680.0" y="440.0">L</tspan></text><text fill="#194ba0"><tspan x="2693.5" y="128.0">I</tspan><tspan x="2693.5" y="148.8">I</tspan><tspan x="2693.5" y="169.6">I</tspan><tspan x="2693.5" y="190.4">I</tspan><tspan x="2693.5" y="211.2">I</tspan><tspan x="2693.5" y="232.0">I</tspan><tspan x="2693.5" y="252.8">L</tspan><tspan x="2693.5" y="273.6">M</tspan><tspan x="2693.5" y="294.4">M</tspan><tspan x="2693.5" y="315.2">M</tspan><tspan x="2693.5" y="336.0">M</tspan><tspan x="2693.5" y="356.8">M</tspan><tspan x="2693.5" y="377.6">M</tspan><tspan x="2693.5" y="398.4">M</tspan><tspan x="2693.5" y="419.2">M</tspan><tspan x="2693.5" y="440.0">V</tspan></text><text fill="#2254a0"><tspan x="2707.0" y="128.0">E</tspan><tspan x="2707.0" y="148.8">E</tspan><tspan x="2707.0" y="169.6">E</tspan><tspan x="2707.0" y="190.4">E</tspan><tspan x="2707.0" y="211.2">E</tspan><tspan x="2707.0" y="232.0">E</tspan><tspan x="2707.0" y="252.8">E</tspan><tspan x="2707.0" y="273.6">E</tspan><tspan x="2707.0" y="294.4">E</tspan><tspan x="2707.0" y="315.2">D</tspan><tspan x="2707.0" y="336.0">E</tspan><tspan x="2707.0" y="356.8">E</tspan><tspan x="2707.0" y="377.6">E</tspan><tspan x="2707.0" y="398.4">D</tspan><tspan x="2707.0" y="419.2">D</tspan><tspan x="2707.0" y="440.0">D</tspan></text><text fill="#06319e"><tspan x="2720.5" y="128.0">F</tspan><tspan x="2720.5" y="148.8">F</tspan><tspan x="2720.5" y="169.6">F</tspan><tspan x="2720.5" y="190.4">F</tspan><tspan x="2720.5" y="211.2">F</tspan><tspan x="2720.5" y="232.0">F</tspan><tspan x="2720.5" y="252.8">F</tspan><tspan x="2720.5" y="273.6">F</tspan><tspan x="2720.5" y="294.4">F</tspan><tspan x="2720.5" y="315.2">F</tspan><tspan x="2720.5" y="336.0">F</tspan><tspan x="2720.5" y="356.8">F</tspan><tspan x="2720.5" y="377.6">F</tspan><tspan x="2720.5" y="398.4">F</tspan><tspan x="2720.5" y="419.2">F</tspan><tspan x="2720.5" y="440.0">F</tspan></text></g></g><rect x="61.5" y="35.5" width="2673" height="415" fill="none" stroke="#666" stroke-width="1" shape-rendering="crispEdges"/></svg></body></html>
